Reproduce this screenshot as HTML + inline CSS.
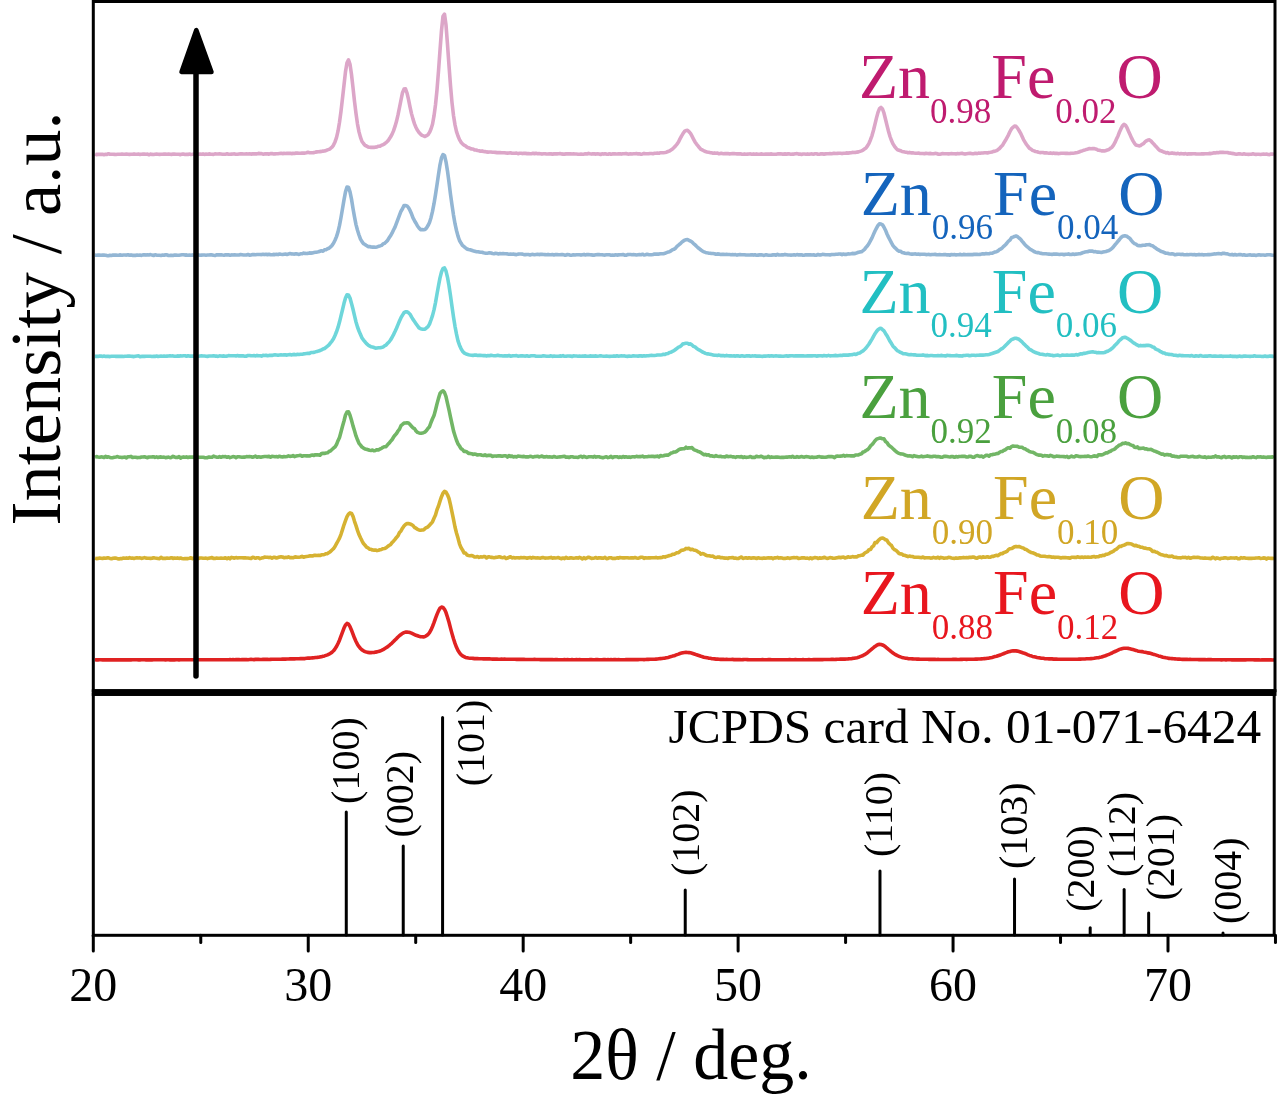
<!DOCTYPE html>
<html><head><meta charset="utf-8"><style>
html,body{margin:0;padding:0;background:#fff;}
svg{display:block;will-change:transform;}
text{font-family:"Liberation Serif",serif;}
</style></head><body>
<svg width="1280" height="1097" viewBox="0 0 1280 1097">
<rect width="1280" height="1097" fill="#fff"/>

<polyline points="95.0,153.9 96.5,154.8 98.0,154.2 99.5,154.4 101.0,154.4 102.5,154.3 104.0,154.7 105.5,154.3 107.0,154.4 108.5,153.7 110.0,154.2 111.5,154.3 113.0,154.3 114.5,154.4 116.0,154.5 117.5,154.3 119.0,154.2 120.5,154.3 122.0,154.1 123.5,154.3 125.0,154.3 126.5,154.0 128.0,154.2 129.5,154.4 131.0,154.3 132.5,154.2 134.0,153.9 135.5,154.3 137.0,154.3 138.5,154.1 140.0,154.4 141.5,154.3 143.0,154.1 144.5,154.1 146.0,154.2 147.5,154.1 149.0,154.8 150.5,154.1 152.0,154.4 153.5,154.5 155.0,154.2 156.5,154.1 158.0,154.3 159.5,154.4 161.0,154.2 162.5,154.2 164.0,154.0 165.5,154.1 167.0,154.2 168.5,154.0 170.0,154.3 171.5,154.4 173.0,154.1 174.5,154.1 176.0,154.2 177.5,154.3 179.0,154.2 180.5,154.7 182.0,154.1 183.5,154.1 185.0,154.5 186.5,154.2 188.0,154.4 189.5,154.0 191.0,154.5 192.5,154.3 194.0,154.0 195.5,154.0 197.0,154.6 198.5,154.3 200.0,154.1 201.5,154.3 203.0,153.9 204.5,154.4 206.0,154.1 207.5,154.3 209.0,153.9 210.5,154.1 212.0,154.2 213.5,154.4 215.0,153.8 216.5,154.0 218.0,154.0 219.5,153.9 221.0,154.0 222.5,154.2 224.0,154.2 225.5,154.2 227.0,153.8 228.5,154.3 230.0,154.2 231.5,154.1 233.0,154.0 234.5,153.9 236.0,154.3 237.5,154.3 239.0,154.0 240.5,153.8 242.0,153.9 243.5,154.0 245.0,154.0 246.5,153.9 248.0,154.0 249.5,153.8 251.0,154.1 252.5,153.9 254.0,153.9 255.5,153.8 257.0,153.9 258.5,153.4 260.0,153.6 261.5,153.6 263.0,154.2 264.5,153.9 266.0,153.9 267.5,153.7 269.0,154.2 270.5,153.6 272.0,153.6 273.5,154.0 275.0,153.9 276.5,153.8 278.0,153.7 279.5,153.5 281.0,153.3 282.5,153.6 284.0,153.4 285.5,153.5 287.0,153.2 288.5,153.4 290.0,153.2 291.5,153.6 293.0,153.4 294.5,153.5 296.0,153.0 297.5,153.1 299.0,153.2 300.5,153.2 302.0,153.0 303.5,153.1 305.0,153.1 306.5,152.8 308.0,152.3 309.5,152.7 311.0,152.7 312.5,152.7 314.0,152.6 315.5,152.1 317.0,151.9 318.5,151.8 320.0,151.6 321.5,151.4 323.0,151.1 324.5,151.0 326.0,150.5 327.5,149.9 329.0,149.4 330.5,148.4 332.0,147.2 333.5,145.1 335.0,141.9 336.5,137.6 338.0,131.2 339.5,122.3 341.0,111.3 342.5,98.2 344.0,85.0 345.5,71.6 347.0,62.8 348.5,59.9 350.0,64.3 351.5,74.5 353.0,87.6 354.5,101.4 356.0,113.5 357.5,124.1 359.0,131.9 360.5,137.4 362.0,141.5 363.5,143.5 365.0,145.3 366.5,146.0 368.0,146.9 369.5,147.3 371.0,147.4 372.5,147.3 374.0,147.4 375.5,147.1 377.0,146.9 378.5,146.2 380.0,146.1 381.5,145.2 383.0,144.8 384.5,143.9 386.0,142.7 387.5,141.3 389.0,139.3 390.5,137.0 392.0,134.4 393.5,130.9 395.0,126.4 396.5,121.3 398.0,114.9 399.5,107.5 401.0,100.0 402.5,92.7 404.0,89.1 405.5,88.8 407.0,93.0 408.5,99.3 410.0,106.8 411.5,113.6 413.0,119.1 414.5,123.9 416.0,127.5 417.5,130.3 419.0,132.5 420.5,134.1 422.0,135.4 423.5,135.9 425.0,136.5 426.5,135.7 428.0,134.8 429.5,132.4 431.0,129.0 432.5,124.2 434.0,115.9 435.5,104.8 437.0,90.0 438.5,71.2 440.0,50.5 441.5,30.5 443.0,16.2 444.5,14.1 446.0,25.0 447.5,44.5 449.0,65.7 450.5,85.7 452.0,102.6 453.5,115.5 455.0,124.9 456.5,131.7 458.0,136.0 459.5,139.6 461.0,142.2 462.5,143.9 464.0,145.1 465.5,145.8 467.0,147.1 468.5,147.8 470.0,148.3 471.5,149.0 473.0,149.0 474.5,149.9 476.0,150.0 477.5,150.5 479.0,150.7 480.5,151.2 482.0,150.9 483.5,151.5 485.0,151.6 486.5,151.9 488.0,152.1 489.5,152.0 491.0,152.0 492.5,152.2 494.0,152.2 495.5,152.4 497.0,152.6 498.5,152.5 500.0,152.6 501.5,152.8 503.0,152.7 504.5,152.7 506.0,153.0 507.5,153.1 509.0,153.0 510.5,152.8 512.0,153.2 513.5,153.3 515.0,153.3 516.5,153.1 518.0,153.7 519.5,153.3 521.0,153.2 522.5,153.6 524.0,153.2 525.5,153.4 527.0,153.6 528.5,153.5 530.0,153.8 531.5,153.7 533.0,153.3 534.5,153.8 536.0,153.3 537.5,153.7 539.0,153.5 540.5,153.7 542.0,154.1 543.5,153.8 545.0,153.7 546.5,154.0 548.0,154.0 549.5,153.7 551.0,153.9 552.5,154.1 554.0,153.9 555.5,153.7 557.0,153.9 558.5,153.7 560.0,153.6 561.5,153.9 563.0,154.1 564.5,154.1 566.0,153.9 567.5,153.7 569.0,153.9 570.5,153.8 572.0,154.0 573.5,153.9 575.0,154.0 576.5,154.0 578.0,154.2 579.5,154.2 581.0,154.0 582.5,154.2 584.0,154.1 585.5,153.8 587.0,154.0 588.5,153.4 590.0,153.8 591.5,154.1 593.0,153.8 594.5,153.9 596.0,154.1 597.5,153.8 599.0,154.1 600.5,154.5 602.0,153.8 603.5,154.1 605.0,153.7 606.5,154.1 608.0,154.2 609.5,153.7 611.0,154.2 612.5,153.9 614.0,153.7 615.5,153.9 617.0,154.0 618.5,153.9 620.0,153.8 621.5,154.1 623.0,153.8 624.5,153.8 626.0,153.5 627.5,154.0 629.0,154.1 630.5,153.8 632.0,154.0 633.5,153.8 635.0,153.8 636.5,153.6 638.0,153.9 639.5,153.8 641.0,154.2 642.5,153.9 644.0,153.4 645.5,153.8 647.0,153.8 648.5,153.8 650.0,153.5 651.5,153.5 653.0,153.7 654.5,153.3 656.0,153.3 657.5,153.1 659.0,153.3 660.5,152.7 662.0,152.8 663.5,152.7 665.0,152.5 666.5,152.2 668.0,151.5 669.5,151.1 671.0,150.1 672.5,149.1 674.0,147.6 675.5,146.0 677.0,144.1 678.5,142.0 680.0,138.9 681.5,136.1 683.0,133.6 684.5,131.4 686.0,130.5 687.5,130.4 689.0,131.7 690.5,133.4 692.0,136.2 693.5,139.1 695.0,141.9 696.5,144.1 698.0,145.9 699.5,147.8 701.0,149.4 702.5,150.0 704.0,150.8 705.5,151.5 707.0,152.0 708.5,152.3 710.0,152.6 711.5,152.8 713.0,153.2 714.5,152.9 716.0,153.2 717.5,153.0 719.0,153.8 720.5,153.4 722.0,153.4 723.5,153.7 725.0,153.6 726.5,153.6 728.0,153.6 729.5,153.9 731.0,153.8 732.5,153.6 734.0,153.6 735.5,153.8 737.0,153.9 738.5,153.9 740.0,153.7 741.5,154.1 743.0,154.2 744.5,153.9 746.0,154.2 747.5,154.1 749.0,154.0 750.5,153.9 752.0,154.2 753.5,153.9 755.0,154.3 756.5,153.9 758.0,154.3 759.5,154.3 761.0,153.9 762.5,154.1 764.0,154.2 765.5,154.1 767.0,154.0 768.5,154.1 770.0,154.1 771.5,153.9 773.0,154.2 774.5,154.2 776.0,154.2 777.5,153.9 779.0,153.9 780.5,153.8 782.0,154.1 783.5,154.1 785.0,153.9 786.5,154.1 788.0,153.9 789.5,153.9 791.0,154.2 792.5,154.1 794.0,154.1 795.5,153.7 797.0,153.6 798.5,154.1 800.0,154.0 801.5,154.4 803.0,154.0 804.5,154.0 806.0,154.2 807.5,153.9 809.0,154.3 810.5,154.0 812.0,153.9 813.5,154.2 815.0,153.8 816.5,153.7 818.0,154.2 819.5,154.2 821.0,153.8 822.5,153.9 824.0,154.1 825.5,153.9 827.0,153.8 828.5,153.8 830.0,153.6 831.5,153.7 833.0,153.4 834.5,153.4 836.0,153.5 837.5,153.4 839.0,153.3 840.5,153.3 842.0,153.6 843.5,153.2 845.0,153.3 846.5,152.9 848.0,153.1 849.5,152.9 851.0,152.8 852.5,152.4 854.0,152.5 855.5,152.4 857.0,152.1 858.5,151.9 860.0,151.4 861.5,150.9 863.0,150.2 864.5,148.9 866.0,147.9 867.5,145.9 869.0,143.3 870.5,139.7 872.0,135.6 873.5,130.2 875.0,124.1 876.5,117.9 878.0,112.4 879.5,108.6 881.0,107.4 882.5,109.0 884.0,113.2 885.5,119.2 887.0,125.4 888.5,131.2 890.0,136.5 891.5,140.6 893.0,143.9 894.5,146.3 896.0,148.2 897.5,149.7 899.0,150.2 900.5,150.7 902.0,151.5 903.5,151.8 905.0,152.1 906.5,152.2 908.0,152.8 909.5,152.4 911.0,152.9 912.5,152.7 914.0,153.0 915.5,153.2 917.0,153.2 918.5,153.1 920.0,153.5 921.5,153.5 923.0,153.5 924.5,153.8 926.0,153.3 927.5,153.5 929.0,153.6 930.5,153.4 932.0,153.8 933.5,153.7 935.0,153.4 936.5,153.5 938.0,154.1 939.5,154.3 941.0,153.9 942.5,153.6 944.0,153.8 945.5,153.8 947.0,153.7 948.5,153.9 950.0,153.7 951.5,153.6 953.0,153.7 954.5,153.7 956.0,153.9 957.5,153.6 959.0,153.8 960.5,153.5 962.0,153.2 963.5,153.8 965.0,154.1 966.5,153.7 968.0,153.5 969.5,153.4 971.0,153.4 972.5,153.7 974.0,153.6 975.5,153.2 977.0,153.6 978.5,153.1 980.0,153.3 981.5,153.0 983.0,153.0 984.5,152.8 986.0,152.7 987.5,152.9 989.0,152.5 990.5,152.3 992.0,152.0 993.5,151.4 995.0,151.2 996.5,150.6 998.0,149.7 999.5,148.5 1001.0,146.8 1002.5,145.3 1004.0,142.7 1005.5,140.3 1007.0,137.6 1008.5,134.8 1010.0,131.5 1011.5,128.8 1013.0,127.3 1014.5,126.0 1016.0,126.3 1017.5,128.1 1019.0,130.5 1020.5,133.1 1022.0,136.3 1023.5,139.6 1025.0,142.1 1026.5,144.5 1028.0,146.4 1029.5,148.4 1031.0,149.1 1032.5,150.3 1034.0,150.9 1035.5,151.5 1037.0,151.7 1038.5,152.2 1040.0,152.6 1041.5,152.5 1043.0,152.5 1044.5,152.9 1046.0,152.7 1047.5,153.0 1049.0,153.2 1050.5,152.9 1052.0,153.4 1053.5,153.1 1055.0,153.4 1056.5,153.2 1058.0,153.6 1059.5,153.5 1061.0,153.2 1062.5,153.3 1064.0,153.3 1065.5,153.4 1067.0,153.2 1068.5,153.5 1070.0,153.4 1071.5,153.2 1073.0,153.2 1074.5,153.0 1076.0,152.7 1077.5,152.4 1079.0,152.0 1080.5,151.3 1082.0,150.9 1083.5,150.3 1085.0,149.9 1086.5,149.4 1088.0,149.1 1089.5,148.5 1091.0,148.7 1092.5,148.6 1094.0,148.6 1095.5,148.9 1097.0,149.5 1098.5,150.3 1100.0,150.4 1101.5,150.9 1103.0,150.8 1104.5,151.0 1106.0,150.6 1107.5,149.9 1109.0,149.5 1110.5,148.2 1112.0,147.2 1113.5,145.2 1115.0,142.4 1116.5,139.1 1118.0,135.9 1119.5,132.0 1121.0,128.7 1122.5,125.8 1124.0,124.4 1125.5,125.3 1127.0,127.7 1128.5,131.2 1130.0,134.5 1131.5,137.9 1133.0,140.9 1134.5,143.3 1136.0,145.1 1137.5,145.4 1139.0,145.9 1140.5,145.5 1142.0,144.4 1143.5,143.7 1145.0,141.9 1146.5,140.8 1148.0,140.0 1149.5,139.9 1151.0,140.9 1152.5,142.8 1154.0,144.3 1155.5,146.0 1157.0,147.6 1158.5,149.3 1160.0,150.5 1161.5,151.0 1163.0,151.7 1164.5,152.2 1166.0,152.9 1167.5,152.5 1169.0,153.5 1170.5,153.2 1172.0,152.9 1173.5,153.4 1175.0,153.4 1176.5,153.7 1178.0,153.3 1179.5,153.9 1181.0,153.6 1182.5,153.7 1184.0,153.9 1185.5,153.6 1187.0,154.1 1188.5,153.9 1190.0,153.9 1191.5,153.9 1193.0,153.8 1194.5,153.7 1196.0,153.9 1197.5,154.0 1199.0,154.0 1200.5,154.0 1202.0,153.7 1203.5,153.9 1205.0,153.7 1206.5,153.8 1208.0,153.8 1209.5,153.4 1211.0,153.6 1212.5,153.2 1214.0,152.8 1215.5,153.0 1217.0,152.6 1218.5,152.7 1220.0,152.3 1221.5,152.4 1223.0,152.3 1224.5,152.5 1226.0,152.5 1227.5,152.5 1229.0,153.0 1230.5,153.1 1232.0,153.4 1233.5,153.6 1235.0,153.9 1236.5,154.2 1238.0,153.9 1239.5,153.7 1241.0,154.0 1242.5,154.2 1244.0,153.8 1245.5,154.2 1247.0,154.3 1248.5,154.4 1250.0,154.3 1251.5,154.2 1253.0,153.8 1254.5,154.2 1256.0,154.4 1257.5,154.3 1259.0,154.3 1260.5,154.5 1262.0,154.2 1263.5,154.1 1265.0,154.2 1266.5,154.1 1268.0,154.5 1269.5,154.6 1271.0,154.0 1272.5,154.1 1274.0,154.5" fill="none" stroke="#dca6c8" stroke-width="3.6" stroke-linejoin="round"/>
<polyline points="95.0,255.1 96.5,255.2 98.0,255.1 99.5,255.1 101.0,255.3 102.5,255.1 104.0,255.1 105.5,255.2 107.0,255.6 108.5,255.8 110.0,255.3 111.5,255.5 113.0,255.1 114.5,255.0 116.0,255.1 117.5,255.2 119.0,255.1 120.5,254.9 122.0,255.3 123.5,255.0 125.0,255.0 126.5,255.1 128.0,254.8 129.5,255.3 131.0,254.9 132.5,255.4 134.0,255.3 135.5,255.4 137.0,255.0 138.5,255.3 140.0,255.1 141.5,255.4 143.0,254.9 144.5,254.7 146.0,255.1 147.5,254.8 149.0,255.0 150.5,254.6 152.0,255.1 153.5,255.5 155.0,254.8 156.5,255.1 158.0,255.3 159.5,255.3 161.0,255.5 162.5,255.1 164.0,255.3 165.5,254.8 167.0,254.9 168.5,255.5 170.0,255.4 171.5,255.2 173.0,255.5 174.5,255.1 176.0,255.1 177.5,255.2 179.0,255.2 180.5,255.0 182.0,254.8 183.5,254.7 185.0,255.1 186.5,254.9 188.0,255.2 189.5,255.0 191.0,255.3 192.5,254.9 194.0,255.3 195.5,255.2 197.0,255.0 198.5,254.9 200.0,255.3 201.5,255.1 203.0,255.0 204.5,255.0 206.0,255.2 207.5,255.0 209.0,255.0 210.5,254.7 212.0,254.9 213.5,255.3 215.0,255.5 216.5,254.9 218.0,254.7 219.5,254.9 221.0,254.7 222.5,255.0 224.0,255.2 225.5,254.8 227.0,254.9 228.5,254.8 230.0,255.2 231.5,254.9 233.0,255.0 234.5,254.7 236.0,255.0 237.5,255.0 239.0,255.0 240.5,254.6 242.0,254.8 243.5,255.0 245.0,255.0 246.5,255.0 248.0,254.5 249.5,255.2 251.0,254.9 252.5,254.6 254.0,254.5 255.5,254.7 257.0,254.5 258.5,254.5 260.0,254.5 261.5,254.6 263.0,254.3 264.5,254.6 266.0,254.3 267.5,254.8 269.0,254.3 270.5,254.8 272.0,254.8 273.5,254.4 275.0,254.6 276.5,254.3 278.0,254.6 279.5,254.0 281.0,254.3 282.5,254.5 284.0,254.2 285.5,254.0 287.0,254.4 288.5,254.0 290.0,253.6 291.5,253.9 293.0,254.0 294.5,254.1 296.0,253.7 297.5,254.1 299.0,254.4 300.5,253.8 302.0,253.8 303.5,253.1 305.0,253.4 306.5,253.5 308.0,253.4 309.5,252.9 311.0,253.1 312.5,252.9 314.0,252.6 315.5,252.3 317.0,252.1 318.5,251.8 320.0,251.3 321.5,250.8 323.0,251.2 324.5,249.8 326.0,249.7 327.5,248.8 329.0,248.3 330.5,246.9 332.0,245.4 333.5,243.3 335.0,240.3 336.5,236.6 338.0,231.9 339.5,225.4 341.0,217.5 342.5,208.8 344.0,199.9 345.5,191.9 347.0,187.0 348.5,187.2 350.0,191.9 351.5,199.1 353.0,208.5 354.5,216.9 356.0,224.6 357.5,230.3 359.0,235.0 360.5,239.1 362.0,241.6 363.5,243.7 365.0,244.5 366.5,245.6 368.0,246.6 369.5,246.5 371.0,247.0 372.5,247.1 374.0,247.1 375.5,247.2 377.0,246.9 378.5,246.3 380.0,245.9 381.5,245.4 383.0,243.9 384.5,243.3 386.0,242.0 387.5,240.4 389.0,238.1 390.5,235.8 392.0,233.2 393.5,230.0 395.0,227.1 396.5,223.1 398.0,219.1 399.5,215.1 401.0,211.2 402.5,208.7 404.0,205.5 405.5,205.6 407.0,205.9 408.5,207.6 410.0,210.4 411.5,213.8 413.0,217.9 414.5,220.7 416.0,223.2 417.5,226.0 419.0,228.0 420.5,229.6 422.0,229.5 423.5,229.8 425.0,229.5 426.5,227.9 428.0,225.6 429.5,222.5 431.0,217.7 432.5,211.4 434.0,203.7 435.5,194.6 437.0,184.8 438.5,174.5 440.0,164.8 441.5,157.8 443.0,154.6 444.5,155.5 446.0,161.8 447.5,171.1 449.0,182.3 450.5,194.4 452.0,205.1 453.5,215.1 455.0,223.7 456.5,230.5 458.0,236.1 459.5,240.5 461.0,243.1 462.5,245.4 464.0,246.6 465.5,247.9 467.0,249.0 468.5,249.5 470.0,249.8 471.5,250.3 473.0,250.8 474.5,251.2 476.0,251.6 477.5,251.8 479.0,251.9 480.5,252.2 482.0,252.3 483.5,252.8 485.0,253.1 486.5,253.2 488.0,253.1 489.5,252.8 491.0,253.0 492.5,253.5 494.0,253.7 495.5,253.3 497.0,253.5 498.5,253.9 500.0,253.5 501.5,253.7 503.0,253.5 504.5,253.8 506.0,253.7 507.5,253.9 509.0,254.2 510.5,254.1 512.0,254.3 513.5,254.0 515.0,254.4 516.5,254.6 518.0,254.1 519.5,254.0 521.0,254.0 522.5,254.1 524.0,254.7 525.5,254.6 527.0,254.5 528.5,254.5 530.0,254.9 531.5,254.5 533.0,254.4 534.5,254.7 536.0,254.5 537.5,254.3 539.0,254.6 540.5,254.4 542.0,254.4 543.5,254.5 545.0,254.6 546.5,254.7 548.0,254.4 549.5,254.8 551.0,254.8 552.5,254.5 554.0,254.9 555.5,254.6 557.0,254.5 558.5,254.7 560.0,254.7 561.5,254.6 563.0,254.6 564.5,255.1 566.0,255.1 567.5,254.5 569.0,254.7 570.5,255.3 572.0,255.1 573.5,254.8 575.0,255.0 576.5,254.7 578.0,254.8 579.5,254.7 581.0,255.1 582.5,254.7 584.0,254.4 585.5,255.0 587.0,254.6 588.5,254.6 590.0,254.7 591.5,254.9 593.0,255.1 594.5,255.1 596.0,254.7 597.5,254.6 599.0,254.6 600.5,254.7 602.0,254.7 603.5,255.0 605.0,255.1 606.5,254.8 608.0,254.8 609.5,254.8 611.0,255.2 612.5,255.0 614.0,255.2 615.5,254.8 617.0,255.1 618.5,254.9 620.0,254.8 621.5,254.8 623.0,254.5 624.5,255.1 626.0,255.3 627.5,254.6 629.0,254.5 630.5,254.5 632.0,254.7 633.5,254.6 635.0,254.7 636.5,255.0 638.0,254.8 639.5,254.6 641.0,254.8 642.5,254.2 644.0,255.0 645.5,254.7 647.0,254.3 648.5,254.6 650.0,254.7 651.5,254.7 653.0,254.5 654.5,254.0 656.0,254.1 657.5,254.0 659.0,254.1 660.5,253.7 662.0,253.7 663.5,253.7 665.0,253.3 666.5,252.7 668.0,252.1 669.5,251.7 671.0,250.9 672.5,249.7 674.0,249.3 675.5,248.2 677.0,246.4 678.5,245.2 680.0,243.9 681.5,242.4 683.0,241.3 684.5,240.2 686.0,239.8 687.5,239.5 689.0,240.3 690.5,241.1 692.0,242.1 693.5,243.6 695.0,244.7 696.5,246.3 698.0,247.7 699.5,248.8 701.0,250.0 702.5,251.1 704.0,251.8 705.5,252.4 707.0,252.8 708.5,253.1 710.0,253.2 711.5,253.5 713.0,253.5 714.5,253.7 716.0,254.2 717.5,253.9 719.0,254.1 720.5,254.5 722.0,254.4 723.5,254.3 725.0,254.5 726.5,254.4 728.0,254.5 729.5,254.5 731.0,254.7 732.5,254.6 734.0,254.8 735.5,254.6 737.0,255.1 738.5,254.7 740.0,254.5 741.5,254.7 743.0,254.8 744.5,254.7 746.0,255.0 747.5,255.0 749.0,255.0 750.5,254.9 752.0,254.7 753.5,255.1 755.0,254.7 756.5,255.3 758.0,255.1 759.5,254.9 761.0,254.7 762.5,255.1 764.0,255.4 765.5,254.8 767.0,254.9 768.5,255.2 770.0,255.2 771.5,255.1 773.0,254.9 774.5,254.8 776.0,255.3 777.5,254.4 779.0,255.0 780.5,255.0 782.0,254.8 783.5,254.9 785.0,254.4 786.5,254.7 788.0,255.0 789.5,255.0 791.0,255.1 792.5,255.0 794.0,254.8 795.5,255.1 797.0,254.6 798.5,254.9 800.0,254.9 801.5,254.7 803.0,255.3 804.5,255.1 806.0,254.8 807.5,254.9 809.0,254.9 810.5,254.8 812.0,255.0 813.5,254.9 815.0,255.1 816.5,255.2 818.0,254.5 819.5,255.0 821.0,254.9 822.5,254.4 824.0,254.5 825.5,254.8 827.0,254.8 828.5,254.7 830.0,254.9 831.5,254.5 833.0,254.5 834.5,254.5 836.0,254.3 837.5,254.3 839.0,254.0 840.5,254.0 842.0,254.7 843.5,254.0 845.0,254.4 846.5,254.4 848.0,253.8 849.5,254.0 851.0,253.8 852.5,253.4 854.0,253.6 855.5,253.4 857.0,252.8 858.5,252.3 860.0,251.9 861.5,251.7 863.0,250.6 864.5,249.4 866.0,247.4 867.5,245.7 869.0,243.5 870.5,240.7 872.0,237.9 873.5,234.4 875.0,231.0 876.5,228.2 878.0,225.4 879.5,223.8 881.0,224.0 882.5,224.8 884.0,227.2 885.5,230.2 887.0,234.0 888.5,237.1 890.0,240.0 891.5,242.9 893.0,245.6 894.5,247.4 896.0,248.7 897.5,250.2 899.0,251.1 900.5,251.3 902.0,252.4 903.5,252.8 905.0,253.3 906.5,253.5 908.0,253.2 909.5,253.7 911.0,254.1 912.5,254.1 914.0,254.0 915.5,253.9 917.0,254.3 918.5,254.1 920.0,254.4 921.5,254.3 923.0,254.3 924.5,254.3 926.0,254.6 927.5,254.5 929.0,254.4 930.5,254.8 932.0,254.5 933.5,254.5 935.0,254.4 936.5,254.6 938.0,254.7 939.5,254.6 941.0,254.8 942.5,254.7 944.0,254.6 945.5,254.6 947.0,254.9 948.5,254.8 950.0,255.2 951.5,254.5 953.0,254.8 954.5,254.6 956.0,254.9 957.5,254.7 959.0,254.6 960.5,254.4 962.0,254.9 963.5,254.4 965.0,254.6 966.5,254.8 968.0,254.5 969.5,254.6 971.0,254.6 972.5,254.6 974.0,254.4 975.5,254.4 977.0,254.4 978.5,254.5 980.0,254.4 981.5,254.1 983.0,253.8 984.5,254.0 986.0,253.6 987.5,253.8 989.0,253.8 990.5,253.2 992.0,253.3 993.5,252.6 995.0,252.0 996.5,251.7 998.0,250.9 999.5,249.5 1001.0,248.9 1002.5,247.6 1004.0,246.1 1005.5,244.7 1007.0,243.0 1008.5,241.1 1010.0,240.0 1011.5,237.7 1013.0,237.1 1014.5,236.4 1016.0,236.0 1017.5,236.7 1019.0,238.0 1020.5,239.2 1022.0,241.1 1023.5,242.8 1025.0,244.7 1026.5,246.1 1028.0,247.3 1029.5,248.7 1031.0,249.7 1032.5,250.5 1034.0,251.5 1035.5,252.2 1037.0,252.6 1038.5,252.6 1040.0,253.2 1041.5,253.4 1043.0,253.7 1044.5,253.7 1046.0,253.8 1047.5,254.0 1049.0,254.1 1050.5,254.3 1052.0,254.4 1053.5,254.1 1055.0,254.1 1056.5,254.1 1058.0,254.3 1059.5,254.5 1061.0,254.2 1062.5,254.2 1064.0,254.7 1065.5,254.2 1067.0,254.2 1068.5,253.9 1070.0,254.5 1071.5,254.5 1073.0,254.0 1074.5,254.4 1076.0,254.1 1077.5,254.0 1079.0,253.8 1080.5,253.7 1082.0,253.0 1083.5,252.4 1085.0,252.1 1086.5,251.8 1088.0,251.6 1089.5,251.0 1091.0,251.1 1092.5,251.0 1094.0,251.8 1095.5,251.6 1097.0,252.1 1098.5,252.0 1100.0,252.2 1101.5,252.5 1103.0,252.1 1104.5,251.7 1106.0,251.5 1107.5,250.9 1109.0,250.5 1110.5,249.5 1112.0,248.4 1113.5,246.7 1115.0,244.8 1116.5,243.1 1118.0,241.2 1119.5,239.5 1121.0,237.5 1122.5,236.3 1124.0,235.9 1125.5,235.9 1127.0,236.3 1128.5,237.6 1130.0,238.6 1131.5,240.6 1133.0,242.4 1134.5,243.6 1136.0,244.2 1137.5,245.5 1139.0,245.6 1140.5,245.8 1142.0,245.4 1143.5,245.3 1145.0,245.2 1146.5,244.7 1148.0,244.7 1149.5,244.6 1151.0,245.4 1152.5,245.7 1154.0,247.0 1155.5,247.9 1157.0,249.1 1158.5,249.9 1160.0,250.8 1161.5,251.5 1163.0,251.9 1164.5,252.8 1166.0,253.3 1167.5,253.2 1169.0,253.7 1170.5,254.0 1172.0,253.8 1173.5,254.0 1175.0,254.8 1176.5,254.4 1178.0,254.2 1179.5,254.3 1181.0,254.6 1182.5,254.2 1184.0,254.8 1185.5,254.7 1187.0,254.6 1188.5,254.7 1190.0,254.5 1191.5,254.5 1193.0,254.8 1194.5,254.5 1196.0,254.9 1197.5,254.8 1199.0,254.4 1200.5,254.8 1202.0,254.6 1203.5,254.9 1205.0,254.8 1206.5,254.7 1208.0,254.6 1209.5,254.6 1211.0,254.5 1212.5,254.2 1214.0,253.9 1215.5,254.0 1217.0,253.7 1218.5,253.5 1220.0,253.8 1221.5,253.9 1223.0,253.2 1224.5,253.4 1226.0,253.8 1227.5,253.9 1229.0,254.4 1230.5,254.7 1232.0,254.4 1233.5,255.0 1235.0,254.5 1236.5,255.0 1238.0,254.8 1239.5,254.5 1241.0,254.6 1242.5,255.1 1244.0,254.8 1245.5,255.3 1247.0,255.2 1248.5,255.0 1250.0,254.8 1251.5,255.2 1253.0,255.0 1254.5,255.1 1256.0,255.4 1257.5,255.1 1259.0,254.8 1260.5,255.1 1262.0,255.0 1263.5,255.0 1265.0,255.3 1266.5,254.9 1268.0,254.8 1269.5,254.8 1271.0,254.9 1272.5,255.3 1274.0,255.3" fill="none" stroke="#93b6d4" stroke-width="3.6" stroke-linejoin="round"/>
<polyline points="95.0,356.4 96.5,356.4 98.0,356.4 99.5,356.1 101.0,356.0 102.5,356.4 104.0,356.1 105.5,356.5 107.0,356.3 108.5,356.4 110.0,356.6 111.5,356.3 113.0,356.3 114.5,356.3 116.0,356.4 117.5,356.4 119.0,356.3 120.5,356.4 122.0,356.2 123.5,356.5 125.0,356.2 126.5,356.2 128.0,356.0 129.5,356.1 131.0,356.2 132.5,356.4 134.0,356.6 135.5,356.2 137.0,356.0 138.5,355.9 140.0,356.7 141.5,356.4 143.0,356.3 144.5,356.4 146.0,356.2 147.5,356.2 149.0,356.3 150.5,356.2 152.0,356.5 153.5,356.4 155.0,356.4 156.5,356.0 158.0,356.5 159.5,356.2 161.0,356.1 162.5,356.2 164.0,356.0 165.5,356.3 167.0,356.1 168.5,356.0 170.0,355.8 171.5,356.0 173.0,355.9 174.5,356.2 176.0,356.2 177.5,355.9 179.0,356.1 180.5,355.9 182.0,356.0 183.5,355.8 185.0,355.7 186.5,356.3 188.0,355.8 189.5,356.1 191.0,356.0 192.5,356.1 194.0,356.0 195.5,356.3 197.0,356.2 198.5,356.2 200.0,356.0 201.5,355.9 203.0,356.0 204.5,356.0 206.0,356.2 207.5,356.4 209.0,356.0 210.5,356.0 212.0,356.0 213.5,355.8 215.0,356.1 216.5,356.1 218.0,356.4 219.5,355.9 221.0,356.0 222.5,356.1 224.0,355.9 225.5,356.2 227.0,356.1 228.5,355.6 230.0,355.8 231.5,355.8 233.0,355.8 234.5,355.8 236.0,355.9 237.5,355.5 239.0,355.9 240.5,355.7 242.0,355.9 243.5,355.9 245.0,356.3 246.5,356.1 248.0,355.5 249.5,355.5 251.0,355.8 252.5,355.7 254.0,355.6 255.5,355.9 257.0,355.4 258.5,355.8 260.0,355.8 261.5,356.1 263.0,355.3 264.5,355.5 266.0,355.2 267.5,355.7 269.0,355.4 270.5,355.4 272.0,355.4 273.5,355.0 275.0,354.9 276.5,355.0 278.0,355.3 279.5,355.0 281.0,354.9 282.5,355.0 284.0,354.9 285.5,354.9 287.0,355.1 288.5,354.8 290.0,354.5 291.5,354.9 293.0,354.6 294.5,354.4 296.0,354.7 297.5,354.3 299.0,354.5 300.5,354.2 302.0,354.2 303.5,353.9 305.0,353.7 306.5,353.5 308.0,353.3 309.5,353.4 311.0,352.5 312.5,352.5 314.0,352.4 315.5,351.9 317.0,351.4 318.5,351.1 320.0,350.5 321.5,349.9 323.0,349.0 324.5,348.5 326.0,347.3 327.5,346.1 329.0,344.8 330.5,342.9 332.0,341.1 333.5,338.8 335.0,335.5 336.5,331.8 338.0,327.4 339.5,322.1 341.0,315.8 342.5,309.7 344.0,303.3 345.5,298.1 347.0,294.8 348.5,295.0 350.0,298.1 351.5,303.4 353.0,309.3 354.5,315.7 356.0,322.0 357.5,327.0 359.0,331.0 360.5,334.6 362.0,337.9 363.5,340.1 365.0,341.8 366.5,343.6 368.0,344.9 369.5,345.9 371.0,346.8 372.5,347.1 374.0,347.5 375.5,348.1 377.0,348.0 378.5,347.8 380.0,347.8 381.5,347.4 383.0,347.1 384.5,345.9 386.0,345.2 387.5,343.3 389.0,342.0 390.5,340.0 392.0,337.5 393.5,334.6 395.0,331.5 396.5,328.2 398.0,324.6 399.5,321.0 401.0,317.7 402.5,315.1 404.0,312.7 405.5,311.9 407.0,311.8 408.5,312.8 410.0,314.2 411.5,316.9 413.0,319.4 414.5,321.5 416.0,323.7 417.5,325.8 419.0,327.9 420.5,328.7 422.0,329.1 423.5,329.3 425.0,329.2 426.5,327.9 428.0,326.6 429.5,324.1 431.0,320.0 432.5,315.6 434.0,309.9 435.5,302.6 437.0,294.0 438.5,285.8 440.0,277.9 441.5,272.0 443.0,268.4 444.5,267.9 446.0,271.1 447.5,277.3 449.0,285.8 450.5,295.8 452.0,306.5 453.5,316.9 455.0,326.3 456.5,334.2 458.0,340.8 459.5,345.2 461.0,348.6 462.5,351.2 464.0,352.8 465.5,353.6 467.0,354.3 468.5,354.7 470.0,355.0 471.5,355.2 473.0,355.4 474.5,355.1 476.0,355.1 477.5,355.5 479.0,355.4 480.5,355.4 482.0,355.5 483.5,355.6 485.0,355.6 486.5,355.9 488.0,355.6 489.5,355.7 491.0,355.2 492.5,355.5 494.0,355.7 495.5,355.7 497.0,355.4 498.5,355.4 500.0,355.7 501.5,355.8 503.0,356.0 504.5,355.9 506.0,355.8 507.5,356.0 509.0,355.5 510.5,356.2 512.0,355.9 513.5,355.8 515.0,355.8 516.5,355.6 518.0,356.2 519.5,356.0 521.0,355.9 522.5,355.9 524.0,356.0 525.5,356.1 527.0,355.8 528.5,356.2 530.0,356.1 531.5,355.7 533.0,355.7 534.5,355.8 536.0,356.2 537.5,356.2 539.0,356.2 540.5,356.2 542.0,356.1 543.5,355.8 545.0,356.0 546.5,356.2 548.0,356.2 549.5,356.3 551.0,355.8 552.5,356.4 554.0,356.0 555.5,356.3 557.0,356.3 558.5,356.3 560.0,355.9 561.5,356.1 563.0,355.6 564.5,356.3 566.0,356.3 567.5,356.0 569.0,356.0 570.5,356.1 572.0,356.5 573.5,355.8 575.0,356.0 576.5,356.0 578.0,356.2 579.5,356.0 581.0,356.2 582.5,356.1 584.0,356.1 585.5,355.9 587.0,356.2 588.5,356.2 590.0,355.9 591.5,356.1 593.0,356.1 594.5,356.1 596.0,355.9 597.5,356.2 599.0,356.0 600.5,355.7 602.0,356.0 603.5,356.2 605.0,356.3 606.5,356.1 608.0,356.3 609.5,356.4 611.0,356.2 612.5,356.3 614.0,355.9 615.5,356.3 617.0,355.8 618.5,356.2 620.0,356.0 621.5,355.9 623.0,356.0 624.5,355.9 626.0,356.2 627.5,356.4 629.0,356.0 630.5,356.3 632.0,356.1 633.5,355.8 635.0,356.0 636.5,356.0 638.0,356.1 639.5,355.9 641.0,355.9 642.5,356.1 644.0,355.7 645.5,356.0 647.0,355.7 648.5,355.8 650.0,355.5 651.5,355.4 653.0,355.5 654.5,355.5 656.0,355.3 657.5,355.0 659.0,355.0 660.5,355.0 662.0,354.7 663.5,354.2 665.0,354.5 666.5,353.7 668.0,353.5 669.5,352.5 671.0,352.2 672.5,351.4 674.0,350.7 675.5,349.5 677.0,348.3 678.5,347.1 680.0,346.6 681.5,345.4 683.0,343.7 684.5,343.6 686.0,343.3 687.5,343.2 689.0,344.1 690.5,343.9 692.0,345.0 693.5,346.3 695.0,346.9 696.5,348.3 698.0,349.4 699.5,350.1 701.0,351.0 702.5,352.0 704.0,352.6 705.5,353.4 707.0,353.9 708.5,353.9 710.0,354.2 711.5,354.6 713.0,354.9 714.5,355.2 716.0,355.3 717.5,355.5 719.0,355.1 720.5,355.6 722.0,355.5 723.5,355.6 725.0,355.9 726.5,355.4 728.0,355.8 729.5,355.9 731.0,355.8 732.5,356.0 734.0,355.9 735.5,356.1 737.0,355.8 738.5,355.9 740.0,356.2 741.5,355.8 743.0,355.9 744.5,356.2 746.0,355.9 747.5,355.9 749.0,355.7 750.5,356.2 752.0,355.9 753.5,356.0 755.0,355.9 756.5,356.1 758.0,356.1 759.5,356.0 761.0,356.3 762.5,356.4 764.0,356.1 765.5,356.1 767.0,356.0 768.5,355.9 770.0,356.1 771.5,355.8 773.0,356.1 774.5,356.0 776.0,355.9 777.5,356.0 779.0,356.1 780.5,356.0 782.0,356.2 783.5,356.2 785.0,356.0 786.5,355.9 788.0,356.1 789.5,355.9 791.0,355.7 792.5,355.7 794.0,356.0 795.5,355.8 797.0,355.9 798.5,355.9 800.0,355.9 801.5,355.9 803.0,355.8 804.5,356.0 806.0,356.0 807.5,355.9 809.0,355.9 810.5,355.7 812.0,355.9 813.5,355.8 815.0,355.7 816.5,356.1 818.0,355.9 819.5,355.8 821.0,355.8 822.5,356.0 824.0,355.6 825.5,355.8 827.0,355.9 828.5,355.4 830.0,355.9 831.5,355.7 833.0,355.8 834.5,355.6 836.0,355.4 837.5,355.7 839.0,355.5 840.5,355.4 842.0,355.5 843.5,355.0 845.0,355.1 846.5,355.1 848.0,355.1 849.5,354.9 851.0,354.7 852.5,354.6 854.0,354.1 855.5,354.5 857.0,354.0 858.5,353.2 860.0,352.9 861.5,351.8 863.0,350.9 864.5,349.5 866.0,348.0 867.5,346.0 869.0,344.0 870.5,341.5 872.0,339.1 873.5,336.3 875.0,333.7 876.5,331.5 878.0,329.7 879.5,328.6 881.0,328.2 882.5,329.6 884.0,330.9 885.5,333.4 887.0,335.7 888.5,338.5 890.0,341.3 891.5,343.6 893.0,346.2 894.5,347.6 896.0,349.2 897.5,350.9 899.0,351.4 900.5,352.4 902.0,353.0 903.5,353.8 905.0,353.8 906.5,354.1 908.0,354.4 909.5,354.8 911.0,354.6 912.5,354.7 914.0,354.9 915.5,354.9 917.0,355.3 918.5,355.2 920.0,355.2 921.5,355.3 923.0,354.9 924.5,355.4 926.0,355.6 927.5,355.4 929.0,355.7 930.5,355.5 932.0,355.5 933.5,355.7 935.0,355.7 936.5,355.8 938.0,355.6 939.5,355.8 941.0,355.4 942.5,355.6 944.0,355.7 945.5,356.0 947.0,355.3 948.5,355.5 950.0,355.6 951.5,355.7 953.0,355.7 954.5,355.8 956.0,355.4 957.5,355.6 959.0,355.9 960.5,355.8 962.0,356.1 963.5,355.5 965.0,355.5 966.5,355.3 968.0,355.2 969.5,355.7 971.0,355.4 972.5,355.3 974.0,355.3 975.5,355.5 977.0,355.2 978.5,355.2 980.0,355.0 981.5,355.1 983.0,355.1 984.5,355.0 986.0,354.8 987.5,354.7 989.0,354.4 990.5,354.0 992.0,353.6 993.5,353.0 995.0,352.5 996.5,352.0 998.0,351.5 999.5,350.3 1001.0,349.1 1002.5,348.3 1004.0,347.0 1005.5,345.5 1007.0,344.0 1008.5,342.4 1010.0,341.1 1011.5,339.6 1013.0,339.0 1014.5,338.3 1016.0,338.3 1017.5,338.8 1019.0,339.3 1020.5,340.6 1022.0,341.9 1023.5,343.6 1025.0,344.9 1026.5,346.4 1028.0,347.8 1029.5,349.4 1031.0,350.0 1032.5,351.0 1034.0,351.9 1035.5,352.5 1037.0,353.1 1038.5,353.5 1040.0,354.1 1041.5,354.2 1043.0,354.4 1044.5,354.8 1046.0,355.0 1047.5,354.6 1049.0,354.9 1050.5,355.1 1052.0,355.2 1053.5,355.7 1055.0,355.5 1056.5,355.3 1058.0,355.1 1059.5,355.7 1061.0,355.4 1062.5,355.0 1064.0,355.2 1065.5,355.3 1067.0,355.1 1068.5,355.3 1070.0,355.3 1071.5,355.1 1073.0,355.0 1074.5,355.2 1076.0,354.6 1077.5,355.0 1079.0,354.6 1080.5,353.7 1082.0,354.0 1083.5,353.4 1085.0,353.4 1086.5,352.9 1088.0,352.6 1089.5,352.3 1091.0,352.0 1092.5,351.8 1094.0,352.1 1095.5,352.2 1097.0,352.8 1098.5,352.6 1100.0,352.8 1101.5,352.7 1103.0,352.8 1104.5,352.5 1106.0,351.8 1107.5,351.3 1109.0,350.5 1110.5,349.7 1112.0,348.4 1113.5,346.9 1115.0,345.3 1116.5,343.9 1118.0,342.2 1119.5,340.4 1121.0,339.3 1122.5,337.8 1124.0,337.4 1125.5,337.3 1127.0,338.2 1128.5,339.0 1130.0,340.0 1131.5,341.2 1133.0,342.5 1134.5,343.4 1136.0,344.3 1137.5,345.1 1139.0,345.9 1140.5,345.4 1142.0,345.8 1143.5,345.5 1145.0,345.6 1146.5,345.4 1148.0,345.3 1149.5,345.6 1151.0,346.0 1152.5,346.9 1154.0,347.3 1155.5,348.9 1157.0,349.6 1158.5,350.2 1160.0,351.3 1161.5,352.0 1163.0,352.9 1164.5,353.0 1166.0,354.0 1167.5,354.0 1169.0,354.4 1170.5,354.5 1172.0,354.6 1173.5,355.2 1175.0,355.3 1176.5,355.4 1178.0,355.7 1179.5,355.3 1181.0,355.6 1182.5,355.6 1184.0,355.8 1185.5,355.7 1187.0,355.8 1188.5,355.8 1190.0,356.0 1191.5,355.6 1193.0,356.0 1194.5,356.3 1196.0,355.8 1197.5,356.0 1199.0,356.1 1200.5,355.5 1202.0,356.0 1203.5,356.2 1205.0,356.1 1206.5,356.0 1208.0,356.1 1209.5,355.8 1211.0,355.9 1212.5,356.2 1214.0,356.1 1215.5,356.0 1217.0,356.2 1218.5,356.2 1220.0,356.0 1221.5,356.1 1223.0,356.4 1224.5,356.3 1226.0,356.2 1227.5,356.2 1229.0,356.3 1230.5,355.9 1232.0,356.4 1233.5,356.4 1235.0,356.2 1236.5,356.6 1238.0,356.4 1239.5,356.1 1241.0,356.5 1242.5,356.4 1244.0,356.0 1245.5,356.1 1247.0,356.2 1248.5,356.2 1250.0,356.4 1251.5,356.2 1253.0,356.3 1254.5,355.8 1256.0,356.2 1257.5,356.3 1259.0,356.3 1260.5,356.3 1262.0,356.5 1263.5,356.4 1265.0,356.0 1266.5,356.5 1268.0,356.4 1269.5,356.1 1271.0,356.0 1272.5,356.5 1274.0,356.0" fill="none" stroke="#6ed6da" stroke-width="3.6" stroke-linejoin="round"/>
<polyline points="95.0,457.3 96.5,456.6 98.0,457.0 99.5,457.3 101.0,456.9 102.5,457.0 104.0,457.5 105.5,456.4 107.0,457.3 108.5,456.8 110.0,457.4 111.5,457.8 113.0,457.6 114.5,457.2 116.0,457.0 117.5,456.6 119.0,457.2 120.5,457.3 122.0,457.6 123.5,457.2 125.0,457.1 126.5,458.0 128.0,456.7 129.5,456.8 131.0,456.4 132.5,457.5 134.0,457.2 135.5,457.2 137.0,457.6 138.5,457.5 140.0,457.5 141.5,457.0 143.0,457.0 144.5,456.7 146.0,457.3 147.5,457.7 149.0,457.0 150.5,457.0 152.0,456.9 153.5,456.7 155.0,457.4 156.5,456.9 158.0,457.5 159.5,457.1 161.0,456.9 162.5,457.2 164.0,457.1 165.5,457.6 167.0,457.4 168.5,457.1 170.0,457.6 171.5,457.4 173.0,456.3 174.5,457.0 176.0,457.4 177.5,457.5 179.0,456.6 180.5,458.1 182.0,457.2 183.5,456.9 185.0,457.3 186.5,456.9 188.0,457.5 189.5,457.1 191.0,457.1 192.5,457.1 194.0,457.1 195.5,457.1 197.0,456.7 198.5,457.2 200.0,457.3 201.5,457.2 203.0,457.2 204.5,457.6 206.0,457.8 207.5,457.6 209.0,457.0 210.5,457.3 212.0,457.2 213.5,456.1 215.0,456.7 216.5,457.1 218.0,457.3 219.5,456.6 221.0,457.3 222.5,456.6 224.0,456.8 225.5,456.5 227.0,457.3 228.5,456.7 230.0,457.6 231.5,457.1 233.0,456.6 234.5,456.7 236.0,457.6 237.5,456.7 239.0,456.8 240.5,457.0 242.0,457.2 243.5,457.0 245.0,457.1 246.5,456.6 248.0,456.8 249.5,456.5 251.0,456.7 252.5,457.3 254.0,456.8 255.5,456.1 257.0,457.2 258.5,456.7 260.0,457.1 261.5,457.1 263.0,456.7 264.5,456.5 266.0,456.5 267.5,456.6 269.0,456.4 270.5,457.3 272.0,456.4 273.5,456.5 275.0,456.7 276.5,456.6 278.0,456.9 279.5,456.2 281.0,456.8 282.5,457.0 284.0,456.5 285.5,456.7 287.0,456.5 288.5,455.9 290.0,456.4 291.5,456.3 293.0,455.5 294.5,456.7 296.0,456.1 297.5,455.7 299.0,455.5 300.5,455.2 302.0,456.2 303.5,455.7 305.0,455.8 306.5,455.9 308.0,455.9 309.5,456.0 311.0,455.3 312.5,455.0 314.0,455.5 315.5,454.7 317.0,454.9 318.5,454.9 320.0,455.2 321.5,453.6 323.0,453.4 324.5,453.4 326.0,453.0 327.5,452.8 329.0,451.5 330.5,450.8 332.0,449.5 333.5,448.2 335.0,446.9 336.5,444.6 338.0,440.7 339.5,437.5 341.0,432.0 342.5,426.2 344.0,421.0 345.5,415.0 347.0,412.0 348.5,411.7 350.0,415.3 351.5,420.2 353.0,425.9 354.5,430.8 356.0,435.9 357.5,439.8 359.0,443.4 360.5,445.1 362.0,447.1 363.5,448.1 365.0,448.9 366.5,449.3 368.0,449.8 369.5,450.3 371.0,450.5 372.5,450.1 374.0,450.8 375.5,450.4 377.0,449.7 378.5,449.9 380.0,449.0 381.5,448.4 383.0,447.3 384.5,446.7 386.0,446.6 387.5,444.8 389.0,443.3 390.5,441.4 392.0,439.7 393.5,437.2 395.0,435.2 396.5,433.6 398.0,431.0 399.5,429.1 401.0,425.6 402.5,424.4 404.0,423.1 405.5,423.0 407.0,422.7 408.5,423.1 410.0,424.6 411.5,426.2 413.0,427.9 414.5,428.6 416.0,431.0 417.5,432.4 419.0,432.9 420.5,433.2 422.0,433.1 423.5,432.7 425.0,432.1 426.5,430.5 428.0,428.4 429.5,426.7 431.0,422.5 432.5,418.8 434.0,415.6 435.5,410.0 437.0,403.9 438.5,398.4 440.0,393.5 441.5,391.7 443.0,390.8 444.5,392.5 446.0,396.6 447.5,403.4 449.0,409.9 450.5,417.1 452.0,424.0 453.5,430.9 455.0,435.7 456.5,440.2 458.0,443.9 459.5,446.0 461.0,448.6 462.5,449.5 464.0,451.4 465.5,451.4 467.0,452.0 468.5,453.4 470.0,453.4 471.5,453.7 473.0,454.4 474.5,454.0 476.0,454.3 477.5,455.0 479.0,454.8 480.5,454.7 482.0,455.2 483.5,455.5 485.0,454.8 486.5,455.8 488.0,455.4 489.5,455.2 491.0,455.4 492.5,456.4 494.0,456.0 495.5,456.0 497.0,456.1 498.5,455.8 500.0,455.9 501.5,456.1 503.0,456.1 504.5,455.8 506.0,455.8 507.5,457.0 509.0,455.5 510.5,456.5 512.0,456.1 513.5,457.0 515.0,456.6 516.5,456.9 518.0,456.1 519.5,456.2 521.0,456.5 522.5,456.6 524.0,456.4 525.5,456.9 527.0,456.8 528.5,456.9 530.0,456.3 531.5,456.6 533.0,457.1 534.5,456.6 536.0,456.5 537.5,456.2 539.0,456.9 540.5,456.6 542.0,456.0 543.5,456.9 545.0,456.9 546.5,456.6 548.0,457.0 549.5,456.8 551.0,457.0 552.5,457.1 554.0,456.5 555.5,457.0 557.0,457.2 558.5,457.0 560.0,456.9 561.5,456.8 563.0,456.5 564.5,456.2 566.0,457.3 567.5,457.0 569.0,457.5 570.5,456.8 572.0,456.7 573.5,457.1 575.0,457.2 576.5,457.3 578.0,457.5 579.5,456.7 581.0,456.3 582.5,457.3 584.0,456.4 585.5,457.0 587.0,457.4 588.5,456.8 590.0,456.7 591.5,456.8 593.0,457.1 594.5,456.4 596.0,457.1 597.5,456.7 599.0,456.7 600.5,457.3 602.0,457.6 603.5,457.6 605.0,457.1 606.5,456.8 608.0,457.6 609.5,457.2 611.0,456.4 612.5,457.6 614.0,456.8 615.5,456.8 617.0,456.7 618.5,457.5 620.0,456.8 621.5,457.4 623.0,456.5 624.5,457.2 626.0,456.8 627.5,457.2 629.0,456.9 630.5,457.4 632.0,456.8 633.5,456.7 635.0,456.9 636.5,456.3 638.0,456.7 639.5,456.5 641.0,456.6 642.5,456.1 644.0,457.0 645.5,456.8 647.0,456.8 648.5,456.4 650.0,456.5 651.5,456.3 653.0,456.4 654.5,456.6 656.0,456.4 657.5,456.1 659.0,457.0 660.5,455.5 662.0,456.0 663.5,455.7 665.0,455.2 666.5,455.1 668.0,455.1 669.5,454.2 671.0,453.1 672.5,452.7 674.0,452.0 675.5,452.0 677.0,451.1 678.5,449.9 680.0,449.1 681.5,448.9 683.0,448.7 684.5,448.6 686.0,447.2 687.5,448.2 689.0,447.7 690.5,447.9 692.0,447.6 693.5,449.3 695.0,450.1 696.5,450.7 698.0,451.4 699.5,451.8 701.0,452.6 702.5,453.8 704.0,454.8 705.5,454.4 707.0,455.1 708.5,454.7 710.0,456.0 711.5,455.7 713.0,456.2 714.5,456.4 716.0,455.6 717.5,456.3 719.0,456.5 720.5,456.2 722.0,456.8 723.5,456.7 725.0,456.9 726.5,456.0 728.0,456.6 729.5,456.5 731.0,456.4 732.5,456.9 734.0,456.9 735.5,457.4 737.0,456.7 738.5,456.8 740.0,457.0 741.5,456.5 743.0,457.5 744.5,456.8 746.0,457.4 747.5,457.3 749.0,457.0 750.5,456.5 752.0,457.4 753.5,457.3 755.0,457.4 756.5,456.2 758.0,456.8 759.5,456.8 761.0,456.2 762.5,456.9 764.0,457.8 765.5,457.2 767.0,457.4 768.5,456.3 770.0,457.5 771.5,456.9 773.0,457.2 774.5,457.2 776.0,457.0 777.5,457.1 779.0,457.3 780.5,457.5 782.0,457.2 783.5,457.4 785.0,457.3 786.5,457.0 788.0,457.1 789.5,456.8 791.0,457.1 792.5,456.3 794.0,457.3 795.5,457.3 797.0,456.6 798.5,457.2 800.0,456.9 801.5,456.6 803.0,457.0 804.5,457.1 806.0,456.6 807.5,456.8 809.0,457.1 810.5,457.4 812.0,457.0 813.5,457.5 815.0,457.2 816.5,457.3 818.0,456.8 819.5,456.6 821.0,457.1 822.5,457.0 824.0,457.2 825.5,457.3 827.0,456.9 828.5,456.5 830.0,456.6 831.5,456.5 833.0,456.8 834.5,457.6 836.0,456.3 837.5,456.1 839.0,456.2 840.5,456.1 842.0,456.0 843.5,455.4 845.0,456.2 846.5,455.6 848.0,455.8 849.5,455.8 851.0,455.9 852.5,455.8 854.0,455.9 855.5,455.0 857.0,455.0 858.5,454.9 860.0,454.2 861.5,453.8 863.0,452.0 864.5,451.7 866.0,450.5 867.5,449.7 869.0,448.2 870.5,445.9 872.0,444.7 873.5,442.8 875.0,440.7 876.5,439.2 878.0,438.6 879.5,438.1 881.0,438.1 882.5,438.8 884.0,438.9 885.5,441.5 887.0,442.6 888.5,444.9 890.0,446.3 891.5,447.3 893.0,448.7 894.5,450.1 896.0,451.5 897.5,452.6 899.0,453.3 900.5,453.9 902.0,454.0 903.5,454.3 905.0,455.0 906.5,455.6 908.0,456.0 909.5,455.7 911.0,456.0 912.5,456.7 914.0,455.6 915.5,456.2 917.0,456.4 918.5,456.7 920.0,456.7 921.5,456.1 923.0,456.8 924.5,456.5 926.0,456.3 927.5,455.9 929.0,456.4 930.5,456.6 932.0,456.8 933.5,456.3 935.0,456.3 936.5,456.8 938.0,456.5 939.5,456.8 941.0,457.3 942.5,457.1 944.0,456.4 945.5,456.2 947.0,456.5 948.5,456.8 950.0,457.0 951.5,456.5 953.0,456.6 954.5,457.3 956.0,456.5 957.5,457.0 959.0,456.5 960.5,456.5 962.0,456.4 963.5,456.3 965.0,456.4 966.5,457.0 968.0,457.0 969.5,456.2 971.0,456.4 972.5,457.1 974.0,457.2 975.5,456.1 977.0,455.6 978.5,456.0 980.0,456.4 981.5,456.1 983.0,457.1 984.5,456.3 986.0,455.4 987.5,455.3 989.0,456.2 990.5,454.7 992.0,454.7 993.5,454.2 995.0,454.2 996.5,453.6 998.0,453.5 999.5,452.3 1001.0,451.5 1002.5,451.4 1004.0,450.2 1005.5,449.7 1007.0,448.4 1008.5,447.7 1010.0,448.2 1011.5,446.6 1013.0,446.0 1014.5,446.3 1016.0,446.2 1017.5,446.4 1019.0,447.1 1020.5,447.3 1022.0,447.3 1023.5,448.4 1025.0,448.8 1026.5,449.8 1028.0,450.5 1029.5,451.6 1031.0,452.0 1032.5,452.2 1034.0,452.9 1035.5,453.8 1037.0,454.6 1038.5,455.1 1040.0,455.0 1041.5,455.2 1043.0,456.2 1044.5,455.6 1046.0,455.7 1047.5,455.9 1049.0,456.3 1050.5,455.3 1052.0,455.9 1053.5,456.8 1055.0,456.6 1056.5,456.1 1058.0,456.2 1059.5,456.4 1061.0,456.5 1062.5,456.5 1064.0,456.6 1065.5,456.9 1067.0,456.3 1068.5,457.5 1070.0,456.8 1071.5,456.0 1073.0,456.8 1074.5,456.9 1076.0,455.8 1077.5,456.1 1079.0,456.5 1080.5,456.6 1082.0,456.5 1083.5,456.5 1085.0,456.4 1086.5,456.5 1088.0,456.0 1089.5,456.4 1091.0,456.7 1092.5,456.4 1094.0,455.9 1095.5,456.1 1097.0,456.4 1098.5,454.8 1100.0,454.9 1101.5,454.9 1103.0,454.5 1104.5,453.7 1106.0,452.8 1107.5,452.9 1109.0,451.8 1110.5,451.3 1112.0,450.1 1113.5,449.6 1115.0,448.9 1116.5,447.2 1118.0,446.2 1119.5,445.0 1121.0,444.7 1122.5,443.4 1124.0,443.5 1125.5,442.9 1127.0,443.7 1128.5,443.5 1130.0,444.6 1131.5,445.2 1133.0,445.5 1134.5,447.2 1136.0,447.5 1137.5,446.9 1139.0,448.5 1140.5,448.4 1142.0,448.3 1143.5,448.1 1145.0,448.9 1146.5,448.8 1148.0,449.5 1149.5,449.5 1151.0,449.4 1152.5,450.2 1154.0,450.9 1155.5,451.3 1157.0,452.0 1158.5,452.6 1160.0,453.4 1161.5,454.1 1163.0,454.0 1164.5,455.1 1166.0,454.6 1167.5,454.5 1169.0,455.0 1170.5,454.9 1172.0,456.3 1173.5,456.0 1175.0,456.5 1176.5,456.6 1178.0,457.0 1179.5,456.9 1181.0,456.2 1182.5,456.3 1184.0,456.2 1185.5,456.3 1187.0,456.4 1188.5,457.0 1190.0,456.8 1191.5,456.5 1193.0,456.4 1194.5,457.0 1196.0,457.0 1197.5,457.0 1199.0,456.3 1200.5,456.7 1202.0,457.0 1203.5,457.2 1205.0,456.8 1206.5,457.6 1208.0,457.1 1209.5,457.2 1211.0,457.2 1212.5,456.9 1214.0,456.9 1215.5,455.9 1217.0,457.0 1218.5,456.8 1220.0,457.3 1221.5,457.7 1223.0,456.7 1224.5,456.4 1226.0,457.4 1227.5,457.1 1229.0,456.7 1230.5,457.1 1232.0,458.0 1233.5,456.7 1235.0,457.2 1236.5,456.8 1238.0,457.5 1239.5,456.8 1241.0,456.7 1242.5,457.4 1244.0,457.0 1245.5,457.4 1247.0,457.3 1248.5,457.5 1250.0,457.3 1251.5,457.4 1253.0,456.7 1254.5,457.2 1256.0,457.6 1257.5,456.7 1259.0,457.0 1260.5,456.8 1262.0,457.2 1263.5,456.9 1265.0,457.2 1266.5,457.5 1268.0,457.1 1269.5,457.1 1271.0,457.1 1272.5,456.9 1274.0,457.8" fill="none" stroke="#72b666" stroke-width="3.6" stroke-linejoin="round"/>
<polyline points="95.0,558.2 96.5,558.6 98.0,558.4 99.5,558.1 101.0,558.3 102.5,558.5 104.0,558.0 105.5,558.3 107.0,557.9 108.5,557.8 110.0,558.4 111.5,558.7 113.0,558.2 114.5,558.0 116.0,558.1 117.5,558.7 119.0,558.9 120.5,558.6 122.0,558.6 123.5,558.0 125.0,558.2 126.5,557.9 128.0,558.3 129.5,557.6 131.0,558.2 132.5,558.0 134.0,558.4 135.5,558.1 137.0,557.8 138.5,558.0 140.0,557.8 141.5,558.4 143.0,558.1 144.5,557.6 146.0,558.1 147.5,558.3 149.0,558.3 150.5,558.4 152.0,558.2 153.5,557.7 155.0,558.0 156.5,558.2 158.0,558.5 159.5,558.6 161.0,557.3 162.5,558.4 164.0,558.2 165.5,558.4 167.0,558.1 168.5,558.3 170.0,558.1 171.5,557.7 173.0,558.4 174.5,558.0 176.0,558.2 177.5,557.9 179.0,558.4 180.5,558.0 182.0,558.5 183.5,558.8 185.0,558.6 186.5,558.5 188.0,558.6 189.5,558.3 191.0,557.8 192.5,558.6 194.0,558.0 195.5,558.1 197.0,558.4 198.5,558.5 200.0,558.0 201.5,558.0 203.0,558.2 204.5,558.2 206.0,558.1 207.5,558.6 209.0,558.1 210.5,558.0 212.0,557.5 213.5,558.5 215.0,558.4 216.5,558.1 218.0,558.3 219.5,558.2 221.0,558.1 222.5,558.2 224.0,558.1 225.5,557.9 227.0,558.6 228.5,557.8 230.0,558.8 231.5,557.4 233.0,557.7 234.5,558.2 236.0,557.6 237.5,558.0 239.0,557.8 240.5,557.7 242.0,557.8 243.5,557.9 245.0,557.7 246.5,558.0 248.0,558.0 249.5,558.2 251.0,558.5 252.5,557.3 254.0,557.6 255.5,558.3 257.0,557.7 258.5,557.7 260.0,558.6 261.5,558.1 263.0,557.8 264.5,557.1 266.0,557.3 267.5,557.3 269.0,557.6 270.5,557.3 272.0,558.1 273.5,557.4 275.0,557.3 276.5,558.0 278.0,557.5 279.5,557.0 281.0,556.8 282.5,557.0 284.0,557.7 285.5,557.4 287.0,557.5 288.5,556.9 290.0,557.6 291.5,557.6 293.0,557.8 294.5,557.1 296.0,556.9 297.5,557.2 299.0,557.2 300.5,557.0 302.0,556.3 303.5,557.2 305.0,556.7 306.5,556.5 308.0,556.3 309.5,555.9 311.0,555.9 312.5,556.0 314.0,555.4 315.5,555.4 317.0,555.5 318.5,555.3 320.0,555.5 321.5,554.8 323.0,554.8 324.5,554.5 326.0,553.7 327.5,553.6 329.0,552.6 330.5,551.5 332.0,550.0 333.5,548.7 335.0,546.5 336.5,543.7 338.0,541.0 339.5,538.2 341.0,534.3 342.5,529.6 344.0,524.8 345.5,520.7 347.0,516.7 348.5,514.1 350.0,512.9 351.5,513.4 353.0,516.3 354.5,521.3 356.0,525.6 357.5,530.4 359.0,534.6 360.5,537.8 362.0,540.8 363.5,543.6 365.0,545.2 366.5,547.1 368.0,547.8 369.5,549.2 371.0,549.3 372.5,550.0 374.0,550.1 375.5,550.0 377.0,550.6 378.5,550.2 380.0,549.7 381.5,549.4 383.0,548.7 384.5,548.5 386.0,547.9 387.5,546.7 389.0,545.5 390.5,544.7 392.0,542.6 393.5,541.2 395.0,539.4 396.5,537.4 398.0,535.8 399.5,532.4 401.0,530.9 402.5,528.2 404.0,526.0 405.5,524.5 407.0,523.5 408.5,523.6 410.0,523.9 411.5,524.7 413.0,525.5 414.5,527.5 416.0,528.2 417.5,529.3 419.0,529.9 420.5,530.3 422.0,530.0 423.5,530.0 425.0,528.6 426.5,527.6 428.0,526.8 429.5,525.2 431.0,523.6 432.5,521.8 434.0,518.3 435.5,515.1 437.0,509.7 438.5,506.0 440.0,501.1 441.5,496.7 443.0,493.2 444.5,491.3 446.0,492.1 447.5,494.8 449.0,498.5 450.5,504.8 452.0,512.2 453.5,519.4 455.0,527.0 456.5,533.0 458.0,538.1 459.5,543.8 461.0,547.6 462.5,549.9 464.0,552.9 465.5,553.0 467.0,555.0 468.5,555.4 470.0,555.7 471.5,555.5 473.0,556.0 474.5,557.0 476.0,557.0 477.5,556.5 479.0,557.4 480.5,556.8 482.0,557.1 483.5,556.6 485.0,556.5 486.5,557.9 488.0,556.9 489.5,556.9 491.0,557.4 492.5,557.4 494.0,557.7 495.5,557.4 497.0,557.2 498.5,556.9 500.0,556.9 501.5,557.5 503.0,557.7 504.5,557.1 506.0,558.5 507.5,558.0 509.0,557.3 510.5,556.8 512.0,557.9 513.5,557.6 515.0,558.0 516.5,557.7 518.0,557.7 519.5,558.0 521.0,557.6 522.5,557.8 524.0,557.6 525.5,557.8 527.0,558.2 528.5,557.7 530.0,557.5 531.5,558.1 533.0,557.4 534.5,557.7 536.0,558.0 537.5,557.9 539.0,558.0 540.5,558.2 542.0,557.6 543.5,557.6 545.0,558.1 546.5,558.0 548.0,558.0 549.5,557.7 551.0,557.4 552.5,558.2 554.0,557.8 555.5,558.0 557.0,557.8 558.5,557.5 560.0,558.3 561.5,558.7 563.0,558.0 564.5,558.6 566.0,557.4 567.5,558.2 569.0,558.1 570.5,557.9 572.0,557.9 573.5,558.2 575.0,558.0 576.5,557.7 578.0,558.1 579.5,557.4 581.0,557.9 582.5,558.9 584.0,557.7 585.5,558.6 587.0,557.9 588.5,557.2 590.0,557.7 591.5,558.4 593.0,558.3 594.5,558.0 596.0,557.5 597.5,558.3 599.0,557.7 600.5,557.9 602.0,558.1 603.5,558.1 605.0,557.4 606.5,558.6 608.0,558.4 609.5,557.7 611.0,557.7 612.5,558.5 614.0,558.3 615.5,558.4 617.0,557.8 618.5,558.2 620.0,557.5 621.5,557.7 623.0,557.9 624.5,557.9 626.0,557.8 627.5,557.7 629.0,558.0 630.5,557.9 632.0,557.7 633.5,558.0 635.0,557.6 636.5,558.0 638.0,558.2 639.5,557.8 641.0,557.3 642.5,557.3 644.0,558.4 645.5,557.7 647.0,558.0 648.5,557.9 650.0,557.9 651.5,557.8 653.0,557.8 654.5,557.7 656.0,557.4 657.5,557.9 659.0,557.8 660.5,557.6 662.0,557.5 663.5,556.7 665.0,557.1 666.5,556.4 668.0,556.1 669.5,555.5 671.0,555.3 672.5,554.4 674.0,554.3 675.5,553.5 677.0,552.7 678.5,552.7 680.0,551.4 681.5,550.3 683.0,550.1 684.5,549.6 686.0,548.4 687.5,548.8 689.0,548.3 690.5,549.7 692.0,549.2 693.5,549.9 695.0,550.3 696.5,550.7 698.0,551.9 699.5,552.6 701.0,554.2 702.5,553.6 704.0,554.0 705.5,555.0 707.0,555.7 708.5,555.8 710.0,555.9 711.5,556.3 713.0,556.1 714.5,557.2 716.0,557.6 717.5,557.1 719.0,557.0 720.5,557.7 722.0,557.6 723.5,557.9 725.0,558.1 726.5,558.0 728.0,558.5 729.5,557.7 731.0,557.7 732.5,557.5 734.0,558.2 735.5,558.1 737.0,558.5 738.5,558.4 740.0,557.6 741.5,557.0 743.0,558.4 744.5,558.1 746.0,557.7 747.5,558.3 749.0,557.8 750.5,558.1 752.0,558.1 753.5,557.7 755.0,558.1 756.5,558.5 758.0,557.8 759.5,558.1 761.0,558.3 762.5,558.4 764.0,557.9 765.5,558.3 767.0,558.0 768.5,557.7 770.0,558.1 771.5,557.7 773.0,558.6 774.5,557.9 776.0,557.9 777.5,557.4 779.0,558.1 780.5,557.8 782.0,558.1 783.5,558.5 785.0,558.4 786.5,558.3 788.0,557.8 789.5,558.4 791.0,558.1 792.5,557.8 794.0,557.6 795.5,557.7 797.0,557.5 798.5,558.5 800.0,558.2 801.5,557.9 803.0,557.7 804.5,557.9 806.0,558.3 807.5,558.1 809.0,558.6 810.5,557.7 812.0,558.6 813.5,557.9 815.0,557.6 816.5,557.7 818.0,558.5 819.5,557.9 821.0,558.1 822.5,558.0 824.0,557.3 825.5,557.8 827.0,558.4 828.5,558.2 830.0,557.6 831.5,557.7 833.0,558.2 834.5,558.3 836.0,557.9 837.5,557.8 839.0,557.3 840.5,557.8 842.0,557.3 843.5,557.1 845.0,558.0 846.5,557.6 848.0,556.7 849.5,557.3 851.0,557.1 852.5,556.6 854.0,557.0 855.5,556.7 857.0,556.9 858.5,555.7 860.0,555.7 861.5,555.1 863.0,555.2 864.5,553.2 866.0,552.3 867.5,551.7 869.0,549.7 870.5,549.5 872.0,547.0 873.5,545.9 875.0,542.6 876.5,542.8 878.0,540.8 879.5,539.4 881.0,538.2 882.5,538.0 884.0,538.6 885.5,539.8 887.0,540.3 888.5,542.9 890.0,544.3 891.5,545.5 893.0,548.3 894.5,549.7 896.0,550.4 897.5,551.8 899.0,553.5 900.5,553.9 902.0,554.0 903.5,555.3 905.0,555.4 906.5,556.0 908.0,556.6 909.5,556.1 911.0,556.5 912.5,556.5 914.0,557.1 915.5,557.2 917.0,557.2 918.5,557.2 920.0,557.5 921.5,557.6 923.0,557.0 924.5,557.9 926.0,557.7 927.5,557.8 929.0,557.8 930.5,558.1 932.0,558.0 933.5,557.4 935.0,557.9 936.5,558.0 938.0,557.2 939.5,558.3 941.0,557.4 942.5,557.7 944.0,558.3 945.5,558.0 947.0,558.0 948.5,557.4 950.0,557.5 951.5,557.9 953.0,558.2 954.5,558.4 956.0,557.9 957.5,558.3 959.0,557.9 960.5,557.9 962.0,557.7 963.5,557.4 965.0,557.7 966.5,557.6 968.0,557.8 969.5,557.3 971.0,557.4 972.5,557.1 974.0,557.1 975.5,557.9 977.0,558.1 978.5,557.3 980.0,557.0 981.5,557.6 983.0,556.8 984.5,557.2 986.0,557.1 987.5,556.8 989.0,557.3 990.5,557.1 992.0,556.4 993.5,556.4 995.0,555.7 996.5,555.3 998.0,555.7 999.5,554.5 1001.0,553.5 1002.5,553.8 1004.0,552.4 1005.5,552.0 1007.0,551.4 1008.5,549.5 1010.0,548.7 1011.5,548.5 1013.0,547.8 1014.5,546.7 1016.0,546.4 1017.5,546.7 1019.0,546.5 1020.5,547.1 1022.0,547.7 1023.5,548.1 1025.0,549.2 1026.5,549.6 1028.0,550.7 1029.5,551.6 1031.0,552.4 1032.5,552.8 1034.0,553.3 1035.5,554.0 1037.0,555.0 1038.5,555.0 1040.0,555.9 1041.5,556.3 1043.0,556.3 1044.5,556.2 1046.0,556.5 1047.5,556.7 1049.0,556.5 1050.5,556.8 1052.0,557.3 1053.5,557.0 1055.0,557.4 1056.5,557.3 1058.0,557.2 1059.5,557.5 1061.0,558.0 1062.5,557.6 1064.0,557.6 1065.5,557.6 1067.0,557.7 1068.5,557.9 1070.0,558.1 1071.5,557.3 1073.0,557.3 1074.5,557.4 1076.0,557.5 1077.5,556.8 1079.0,557.2 1080.5,557.4 1082.0,557.1 1083.5,557.4 1085.0,557.1 1086.5,557.2 1088.0,557.1 1089.5,557.2 1091.0,557.3 1092.5,556.8 1094.0,556.5 1095.5,557.1 1097.0,556.8 1098.5,556.8 1100.0,555.8 1101.5,555.9 1103.0,555.2 1104.5,555.4 1106.0,554.3 1107.5,554.2 1109.0,553.6 1110.5,552.5 1112.0,552.0 1113.5,551.2 1115.0,549.8 1116.5,549.1 1118.0,547.7 1119.5,546.3 1121.0,546.4 1122.5,545.5 1124.0,545.2 1125.5,544.5 1127.0,543.6 1128.5,543.6 1130.0,543.8 1131.5,544.0 1133.0,544.9 1134.5,545.7 1136.0,545.3 1137.5,546.1 1139.0,546.3 1140.5,547.1 1142.0,547.2 1143.5,547.9 1145.0,548.1 1146.5,548.5 1148.0,548.7 1149.5,548.8 1151.0,549.6 1152.5,551.5 1154.0,551.2 1155.5,551.9 1157.0,552.3 1158.5,553.2 1160.0,554.2 1161.5,554.8 1163.0,555.1 1164.5,555.7 1166.0,555.4 1167.5,556.0 1169.0,556.4 1170.5,556.4 1172.0,556.1 1173.5,557.1 1175.0,557.2 1176.5,557.4 1178.0,557.8 1179.5,557.7 1181.0,557.9 1182.5,557.4 1184.0,557.5 1185.5,557.4 1187.0,558.0 1188.5,557.4 1190.0,558.1 1191.5,557.9 1193.0,557.4 1194.5,557.4 1196.0,557.5 1197.5,557.2 1199.0,557.6 1200.5,558.0 1202.0,558.0 1203.5,558.3 1205.0,557.9 1206.5,558.3 1208.0,558.2 1209.5,558.4 1211.0,558.6 1212.5,557.2 1214.0,557.8 1215.5,558.8 1217.0,557.9 1218.5,558.3 1220.0,558.9 1221.5,558.2 1223.0,558.1 1224.5,557.9 1226.0,557.8 1227.5,558.4 1229.0,558.2 1230.5,557.9 1232.0,558.0 1233.5,558.0 1235.0,558.1 1236.5,557.8 1238.0,558.6 1239.5,558.7 1241.0,557.6 1242.5,558.1 1244.0,557.8 1245.5,558.1 1247.0,558.3 1248.5,558.4 1250.0,558.2 1251.5,558.4 1253.0,558.3 1254.5,558.3 1256.0,558.0 1257.5,558.0 1259.0,557.7 1260.5,558.5 1262.0,558.3 1263.5,557.9 1265.0,558.1 1266.5,559.1 1268.0,558.1 1269.5,558.3 1271.0,558.4 1272.5,558.4 1274.0,558.5" fill="none" stroke="#d6b232" stroke-width="3.6" stroke-linejoin="round"/>
<polyline points="95.0,659.8 96.5,659.9 98.0,659.9 99.5,659.8 101.0,659.8 102.5,659.9 104.0,659.9 105.5,659.9 107.0,659.8 108.5,659.9 110.0,659.8 111.5,659.9 113.0,659.9 114.5,659.9 116.0,659.9 117.5,659.8 119.0,659.9 120.5,659.9 122.0,659.9 123.5,659.8 125.0,659.9 126.5,659.9 128.0,659.9 129.5,659.9 131.0,659.9 132.5,659.8 134.0,659.7 135.5,659.8 137.0,659.8 138.5,659.9 140.0,659.9 141.5,659.8 143.0,659.8 144.5,659.8 146.0,659.9 147.5,659.8 149.0,659.9 150.5,659.9 152.0,659.9 153.5,659.8 155.0,659.8 156.5,659.8 158.0,659.8 159.5,659.8 161.0,659.8 162.5,659.8 164.0,659.8 165.5,659.9 167.0,659.8 168.5,659.8 170.0,659.9 171.5,659.8 173.0,659.9 174.5,659.9 176.0,659.8 177.5,659.8 179.0,659.9 180.5,659.8 182.0,659.8 183.5,659.7 185.0,659.8 186.5,659.8 188.0,659.7 189.5,659.8 191.0,659.8 192.5,659.8 194.0,659.8 195.5,659.8 197.0,659.8 198.5,659.7 200.0,659.8 201.5,659.8 203.0,659.8 204.5,659.8 206.0,659.8 207.5,659.8 209.0,659.7 210.5,659.7 212.0,659.8 213.5,659.7 215.0,659.8 216.5,659.8 218.0,659.7 219.5,659.8 221.0,659.7 222.5,659.7 224.0,659.7 225.5,659.7 227.0,659.7 228.5,659.7 230.0,659.6 231.5,659.7 233.0,659.6 234.5,659.7 236.0,659.6 237.5,659.6 239.0,659.6 240.5,659.7 242.0,659.6 243.5,659.6 245.0,659.6 246.5,659.5 248.0,659.7 249.5,659.5 251.0,659.4 252.5,659.5 254.0,659.6 255.5,659.4 257.0,659.4 258.5,659.4 260.0,659.5 261.5,659.5 263.0,659.4 264.5,659.4 266.0,659.3 267.5,659.4 269.0,659.5 270.5,659.4 272.0,659.3 273.5,659.2 275.0,659.3 276.5,659.3 278.0,659.3 279.5,659.2 281.0,659.3 282.5,659.1 284.0,659.1 285.5,659.1 287.0,659.0 288.5,659.0 290.0,658.9 291.5,658.9 293.0,658.9 294.5,658.9 296.0,658.8 297.5,658.7 299.0,658.7 300.5,658.6 302.0,658.6 303.5,658.5 305.0,658.6 306.5,658.3 308.0,658.1 309.5,658.1 311.0,658.0 312.5,657.9 314.0,657.8 315.5,657.5 317.0,657.4 318.5,657.2 320.0,656.9 321.5,656.7 323.0,656.3 324.5,655.9 326.0,655.4 327.5,654.9 329.0,654.2 330.5,653.3 332.0,652.2 333.5,650.8 335.0,648.8 336.5,646.5 338.0,643.5 339.5,640.2 341.0,636.2 342.5,632.1 344.0,628.1 345.5,624.9 347.0,623.4 348.5,624.1 350.0,626.6 351.5,630.2 353.0,634.2 354.5,638.1 356.0,641.5 357.5,644.4 359.0,646.7 360.5,648.5 362.0,649.9 363.5,650.8 365.0,651.6 366.5,652.1 368.0,652.4 369.5,652.6 371.0,652.6 372.5,652.5 374.0,652.5 375.5,652.1 377.0,651.9 378.5,651.4 380.0,651.0 381.5,650.4 383.0,649.7 384.5,648.7 386.0,647.8 387.5,646.9 389.0,645.7 390.5,644.3 392.0,643.1 393.5,641.6 395.0,640.0 396.5,638.6 398.0,637.0 399.5,635.7 401.0,634.5 402.5,633.4 404.0,632.7 405.5,632.1 407.0,632.1 408.5,632.2 410.0,632.6 411.5,633.2 413.0,633.9 414.5,634.6 416.0,635.3 417.5,635.8 419.0,636.3 420.5,636.7 422.0,636.8 423.5,636.9 425.0,636.5 426.5,635.7 428.0,634.5 429.5,632.6 431.0,629.9 432.5,626.5 434.0,622.7 435.5,618.4 437.0,614.4 438.5,610.9 440.0,608.2 441.5,607.1 443.0,607.5 444.5,609.3 446.0,612.6 447.5,617.2 449.0,622.3 450.5,628.1 452.0,633.6 453.5,638.8 455.0,643.4 456.5,647.3 458.0,650.5 459.5,652.8 461.0,654.6 462.5,655.8 464.0,656.6 465.5,657.4 467.0,657.7 468.5,658.0 470.0,658.2 471.5,658.3 473.0,658.4 474.5,658.6 476.0,658.5 477.5,658.6 479.0,658.7 480.5,658.7 482.0,658.7 483.5,658.9 485.0,658.8 486.5,658.9 488.0,658.8 489.5,658.9 491.0,659.0 492.5,659.1 494.0,659.1 495.5,659.0 497.0,659.1 498.5,659.2 500.0,659.2 501.5,659.1 503.0,659.3 504.5,659.1 506.0,659.2 507.5,659.2 509.0,659.3 510.5,659.2 512.0,659.3 513.5,659.3 515.0,659.3 516.5,659.4 518.0,659.4 519.5,659.4 521.0,659.4 522.5,659.4 524.0,659.4 525.5,659.5 527.0,659.5 528.5,659.5 530.0,659.5 531.5,659.5 533.0,659.5 534.5,659.4 536.0,659.5 537.5,659.5 539.0,659.5 540.5,659.6 542.0,659.5 543.5,659.6 545.0,659.5 546.5,659.6 548.0,659.6 549.5,659.6 551.0,659.6 552.5,659.6 554.0,659.7 555.5,659.5 557.0,659.6 558.5,659.7 560.0,659.7 561.5,659.7 563.0,659.7 564.5,659.6 566.0,659.7 567.5,659.6 569.0,659.7 570.5,659.7 572.0,659.6 573.5,659.7 575.0,659.7 576.5,659.6 578.0,659.7 579.5,659.6 581.0,659.7 582.5,659.7 584.0,659.7 585.5,659.7 587.0,659.7 588.5,659.7 590.0,659.6 591.5,659.6 593.0,659.7 594.5,659.7 596.0,659.6 597.5,659.6 599.0,659.7 600.5,659.8 602.0,659.7 603.5,659.6 605.0,659.6 606.5,659.7 608.0,659.6 609.5,659.7 611.0,659.6 612.5,659.7 614.0,659.6 615.5,659.6 617.0,659.7 618.5,659.6 620.0,659.7 621.5,659.7 623.0,659.7 624.5,659.7 626.0,659.6 627.5,659.6 629.0,659.6 630.5,659.6 632.0,659.6 633.5,659.6 635.0,659.5 636.5,659.6 638.0,659.6 639.5,659.5 641.0,659.5 642.5,659.5 644.0,659.6 645.5,659.5 647.0,659.4 648.5,659.4 650.0,659.3 651.5,659.3 653.0,659.2 654.5,659.2 656.0,659.1 657.5,659.0 659.0,658.8 660.5,658.6 662.0,658.5 663.5,658.3 665.0,658.1 666.5,657.7 668.0,657.4 669.5,657.0 671.0,656.6 672.5,656.1 674.0,655.7 675.5,655.2 677.0,654.6 678.5,654.1 680.0,653.5 681.5,653.1 683.0,652.7 684.5,652.5 686.0,652.4 687.5,652.5 689.0,652.6 690.5,652.8 692.0,653.2 693.5,653.7 695.0,654.2 696.5,654.8 698.0,655.3 699.5,655.8 701.0,656.3 702.5,656.7 704.0,657.2 705.5,657.5 707.0,657.8 708.5,658.1 710.0,658.3 711.5,658.6 713.0,658.7 714.5,658.9 716.0,659.1 717.5,659.1 719.0,659.3 720.5,659.4 722.0,659.4 723.5,659.4 725.0,659.5 726.5,659.3 728.0,659.5 729.5,659.5 731.0,659.5 732.5,659.4 734.0,659.6 735.5,659.5 737.0,659.6 738.5,659.6 740.0,659.6 741.5,659.7 743.0,659.6 744.5,659.5 746.0,659.5 747.5,659.6 749.0,659.7 750.5,659.7 752.0,659.7 753.5,659.7 755.0,659.7 756.5,659.7 758.0,659.7 759.5,659.7 761.0,659.7 762.5,659.6 764.0,659.7 765.5,659.7 767.0,659.7 768.5,659.6 770.0,659.6 771.5,659.8 773.0,659.8 774.5,659.7 776.0,659.8 777.5,659.8 779.0,659.7 780.5,659.7 782.0,659.7 783.5,659.7 785.0,659.7 786.5,659.7 788.0,659.7 789.5,659.6 791.0,659.8 792.5,659.7 794.0,659.8 795.5,659.6 797.0,659.7 798.5,659.8 800.0,659.8 801.5,659.7 803.0,659.6 804.5,659.7 806.0,659.7 807.5,659.8 809.0,659.5 810.5,659.7 812.0,659.7 813.5,659.6 815.0,659.6 816.5,659.5 818.0,659.6 819.5,659.6 821.0,659.5 822.5,659.6 824.0,659.5 825.5,659.5 827.0,659.5 828.5,659.5 830.0,659.5 831.5,659.4 833.0,659.4 834.5,659.5 836.0,659.4 837.5,659.3 839.0,659.3 840.5,659.1 842.0,659.1 843.5,659.1 845.0,659.1 846.5,659.0 848.0,658.9 849.5,658.7 851.0,658.7 852.5,658.4 854.0,658.3 855.5,658.0 857.0,657.7 858.5,657.3 860.0,656.7 861.5,656.1 863.0,655.5 864.5,654.7 866.0,653.7 867.5,652.7 869.0,651.4 870.5,650.2 872.0,648.9 873.5,647.7 875.0,646.4 876.5,645.4 878.0,644.6 879.5,644.4 881.0,644.5 882.5,645.0 884.0,645.7 885.5,646.8 887.0,648.1 888.5,649.4 890.0,650.6 891.5,651.9 893.0,653.0 894.5,654.0 896.0,654.9 897.5,655.7 899.0,656.3 900.5,656.9 902.0,657.4 903.5,657.8 905.0,658.1 906.5,658.2 908.0,658.6 909.5,658.7 911.0,658.8 912.5,658.9 914.0,659.0 915.5,659.0 917.0,659.1 918.5,659.1 920.0,659.3 921.5,659.2 923.0,659.3 924.5,659.3 926.0,659.3 927.5,659.3 929.0,659.4 930.5,659.4 932.0,659.3 933.5,659.4 935.0,659.4 936.5,659.5 938.0,659.4 939.5,659.5 941.0,659.5 942.5,659.5 944.0,659.5 945.5,659.5 947.0,659.5 948.5,659.5 950.0,659.5 951.5,659.5 953.0,659.4 954.5,659.4 956.0,659.4 957.5,659.5 959.0,659.5 960.5,659.4 962.0,659.4 963.5,659.3 965.0,659.3 966.5,659.4 968.0,659.3 969.5,659.2 971.0,659.3 972.5,659.3 974.0,659.2 975.5,659.1 977.0,659.1 978.5,659.0 980.0,659.0 981.5,658.9 983.0,658.8 984.5,658.6 986.0,658.5 987.5,658.2 989.0,658.1 990.5,657.7 992.0,657.4 993.5,657.0 995.0,656.6 996.5,656.2 998.0,655.7 999.5,655.2 1001.0,654.7 1002.5,654.1 1004.0,653.5 1005.5,652.9 1007.0,652.3 1008.5,651.8 1010.0,651.4 1011.5,651.0 1013.0,650.9 1014.5,650.8 1016.0,650.9 1017.5,651.1 1019.0,651.5 1020.5,652.0 1022.0,652.5 1023.5,653.1 1025.0,653.5 1026.5,654.1 1028.0,654.8 1029.5,655.4 1031.0,655.8 1032.5,656.4 1034.0,656.7 1035.5,657.1 1037.0,657.5 1038.5,657.7 1040.0,657.9 1041.5,658.2 1043.0,658.3 1044.5,658.6 1046.0,658.7 1047.5,658.8 1049.0,658.9 1050.5,658.9 1052.0,658.9 1053.5,659.1 1055.0,659.1 1056.5,659.1 1058.0,659.2 1059.5,659.2 1061.0,659.2 1062.5,659.2 1064.0,659.2 1065.5,659.2 1067.0,659.2 1068.5,659.2 1070.0,659.2 1071.5,659.2 1073.0,659.2 1074.5,659.2 1076.0,659.2 1077.5,659.2 1079.0,659.1 1080.5,659.1 1082.0,659.0 1083.5,659.0 1085.0,659.0 1086.5,658.8 1088.0,658.7 1089.5,658.8 1091.0,658.6 1092.5,658.5 1094.0,658.3 1095.5,658.0 1097.0,657.8 1098.5,657.7 1100.0,657.3 1101.5,657.0 1103.0,656.5 1104.5,656.1 1106.0,655.5 1107.5,654.9 1109.0,654.3 1110.5,653.7 1112.0,653.0 1113.5,652.2 1115.0,651.5 1116.5,650.8 1118.0,650.1 1119.5,649.4 1121.0,648.9 1122.5,648.5 1124.0,648.3 1125.5,648.2 1127.0,648.2 1128.5,648.4 1130.0,648.8 1131.5,649.2 1133.0,649.6 1134.5,650.0 1136.0,650.4 1137.5,650.9 1139.0,651.3 1140.5,651.5 1142.0,651.6 1143.5,652.0 1145.0,652.2 1146.5,652.5 1148.0,652.9 1149.5,653.1 1151.0,653.5 1152.5,654.0 1154.0,654.4 1155.5,654.9 1157.0,655.4 1158.5,655.9 1160.0,656.3 1161.5,656.7 1163.0,657.2 1164.5,657.5 1166.0,657.8 1167.5,658.0 1169.0,658.4 1170.5,658.5 1172.0,658.6 1173.5,658.8 1175.0,658.9 1176.5,659.0 1178.0,659.1 1179.5,659.1 1181.0,659.2 1182.5,659.4 1184.0,659.3 1185.5,659.4 1187.0,659.3 1188.5,659.5 1190.0,659.4 1191.5,659.5 1193.0,659.5 1194.5,659.5 1196.0,659.5 1197.5,659.5 1199.0,659.6 1200.5,659.6 1202.0,659.5 1203.5,659.6 1205.0,659.6 1206.5,659.7 1208.0,659.6 1209.5,659.6 1211.0,659.6 1212.5,659.7 1214.0,659.7 1215.5,659.8 1217.0,659.7 1218.5,659.7 1220.0,659.7 1221.5,659.9 1223.0,659.7 1224.5,659.8 1226.0,659.9 1227.5,659.8 1229.0,659.8 1230.5,659.7 1232.0,659.9 1233.5,659.9 1235.0,659.8 1236.5,659.9 1238.0,659.8 1239.5,659.9 1241.0,659.8 1242.5,659.9 1244.0,659.9 1245.5,659.9 1247.0,659.8 1248.5,659.8 1250.0,659.8 1251.5,659.8 1253.0,659.8 1254.5,659.9 1256.0,659.9 1257.5,659.8 1259.0,659.9 1260.5,660.0 1262.0,659.9 1263.5,659.9 1265.0,659.8 1266.5,659.9 1268.0,659.8 1269.5,659.9 1271.0,659.8 1272.5,660.0 1274.0,659.9" fill="none" stroke="#e02222" stroke-width="3.6" stroke-linejoin="round"/>
<line x1="196" y1="676" x2="196" y2="70" stroke="#000" stroke-width="5.5" stroke-linecap="round"/>
<polygon points="196.3,30 181.5,72 211.5,72" fill="#000" stroke="#000" stroke-width="4.5" stroke-linejoin="round"/>
<rect x="93.3" y="1.5" width="1181.7" height="689.2" fill="none" stroke="#000" stroke-width="3"/>
<rect x="93.3" y="694.3" width="1180.9" height="241" fill="none" stroke="#000" stroke-width="3"/><rect x="91.8" y="689.3" width="1184.7" height="6.6" fill="#000"/>
<line x1="93.30" y1="935.3" x2="93.30" y2="951" stroke="#000" stroke-width="3" stroke-linecap="round"/>
<line x1="200.77" y1="935.3" x2="200.77" y2="942.5" stroke="#000" stroke-width="3" stroke-linecap="round"/>
<line x1="308.24" y1="935.3" x2="308.24" y2="951" stroke="#000" stroke-width="3" stroke-linecap="round"/>
<line x1="415.71" y1="935.3" x2="415.71" y2="942.5" stroke="#000" stroke-width="3" stroke-linecap="round"/>
<line x1="523.18" y1="935.3" x2="523.18" y2="951" stroke="#000" stroke-width="3" stroke-linecap="round"/>
<line x1="630.65" y1="935.3" x2="630.65" y2="942.5" stroke="#000" stroke-width="3" stroke-linecap="round"/>
<line x1="738.12" y1="935.3" x2="738.12" y2="951" stroke="#000" stroke-width="3" stroke-linecap="round"/>
<line x1="845.59" y1="935.3" x2="845.59" y2="942.5" stroke="#000" stroke-width="3" stroke-linecap="round"/>
<line x1="953.06" y1="935.3" x2="953.06" y2="951" stroke="#000" stroke-width="3" stroke-linecap="round"/>
<line x1="1060.53" y1="935.3" x2="1060.53" y2="942.5" stroke="#000" stroke-width="3" stroke-linecap="round"/>
<line x1="1168.00" y1="935.3" x2="1168.00" y2="951" stroke="#000" stroke-width="3" stroke-linecap="round"/>
<line x1="1275.47" y1="935.3" x2="1275.47" y2="942.5" stroke="#000" stroke-width="3" stroke-linecap="round"/>
<text x="93.30" y="1001" font-size="48" text-anchor="middle">20</text>
<text x="308.24" y="1001" font-size="48" text-anchor="middle">30</text>
<text x="523.18" y="1001" font-size="48" text-anchor="middle">40</text>
<text x="738.12" y="1001" font-size="48" text-anchor="middle">50</text>
<text x="953.06" y="1001" font-size="48" text-anchor="middle">60</text>
<text x="1168.00" y="1001" font-size="48" text-anchor="middle">70</text>
<line x1="346.28" y1="811.9000000000001" x2="346.28" y2="935" stroke="#000" stroke-width="3" stroke-linecap="round"/>
<line x1="403.24" y1="846.1" x2="403.24" y2="935" stroke="#000" stroke-width="3" stroke-linecap="round"/>
<line x1="442.58" y1="717.4000000000001" x2="442.58" y2="935" stroke="#000" stroke-width="3" stroke-linecap="round"/>
<line x1="685.24" y1="890.1" x2="685.24" y2="935" stroke="#000" stroke-width="3" stroke-linecap="round"/>
<line x1="879.98" y1="870.9000000000001" x2="879.98" y2="935" stroke="#000" stroke-width="3" stroke-linecap="round"/>
<line x1="1014.53" y1="879.0" x2="1014.53" y2="935" stroke="#000" stroke-width="3" stroke-linecap="round"/>
<line x1="1090.19" y1="927.7" x2="1090.19" y2="935" stroke="#000" stroke-width="3" stroke-linecap="round"/>
<line x1="1124.15" y1="889.5" x2="1124.15" y2="935" stroke="#000" stroke-width="3" stroke-linecap="round"/>
<line x1="1148.66" y1="913.0" x2="1148.66" y2="935" stroke="#000" stroke-width="3" stroke-linecap="round"/>
<line x1="1223.02" y1="932.9000000000001" x2="1223.02" y2="935" stroke="#000" stroke-width="3" stroke-linecap="round"/>
<text transform="translate(359.4,760.6) rotate(-90)" font-size="40" text-anchor="middle">(100)</text>
<text transform="translate(412.9,794.2) rotate(-90)" font-size="40" text-anchor="middle">(002)</text>
<text transform="translate(484.4,743.0) rotate(-90)" font-size="40" text-anchor="middle">(101)</text>
<text transform="translate(699.2,832.7) rotate(-90)" font-size="40" text-anchor="middle">(102)</text>
<text transform="translate(892.4,814.5) rotate(-90)" font-size="40" text-anchor="middle">(110)</text>
<text transform="translate(1027.4,825.7) rotate(-90)" font-size="40" text-anchor="middle">(103)</text>
<text transform="translate(1094.3,868.5) rotate(-90)" font-size="40" text-anchor="middle">(200)</text>
<text transform="translate(1135.3,834.5) rotate(-90)" font-size="40" text-anchor="middle">(112)</text>
<text transform="translate(1173.9,857.3) rotate(-90)" font-size="40" text-anchor="middle">(201)</text>
<text transform="translate(1240.7,880.8) rotate(-90)" font-size="40" text-anchor="middle">(004)</text>
<text x="668.5" y="742.5" font-size="49.4">JCPDS card No. 01-071-6424</text>
<text x="859" y="98" font-size="64" fill="#bf1b6f">Zn<tspan font-size="35" dy="24.5">0.98</tspan><tspan dy="-24.5">Fe</tspan><tspan font-size="35" dy="24.5">0.02</tspan><tspan dy="-24.5">O</tspan></text>
<text x="860.7" y="214.5" font-size="64" fill="#1464bc">Zn<tspan font-size="35" dy="24.5">0.96</tspan><tspan dy="-24.5">Fe</tspan><tspan font-size="35" dy="24.5">0.04</tspan><tspan dy="-24.5">O</tspan></text>
<text x="859.5" y="312.5" font-size="64" fill="#22bfc2">Zn<tspan font-size="35" dy="24.5">0.94</tspan><tspan dy="-24.5">Fe</tspan><tspan font-size="35" dy="24.5">0.06</tspan><tspan dy="-24.5">O</tspan></text>
<text x="859.5" y="418" font-size="64" fill="#4aa03e">Zn<tspan font-size="35" dy="24.5">0.92</tspan><tspan dy="-24.5">Fe</tspan><tspan font-size="35" dy="24.5">0.08</tspan><tspan dy="-24.5">O</tspan></text>
<text x="860.7" y="519.25" font-size="64" fill="#d1a625">Zn<tspan font-size="35" dy="24.5">0.90</tspan><tspan dy="-24.5">Fe</tspan><tspan font-size="35" dy="24.5">0.10</tspan><tspan dy="-24.5">O</tspan></text>
<text x="860.7" y="614.25" font-size="64" fill="#e8161e">Zn<tspan font-size="35" dy="24.5">0.88</tspan><tspan dy="-24.5">Fe</tspan><tspan font-size="35" dy="24.5">0.12</tspan><tspan dy="-24.5">O</tspan></text>
<text transform="translate(691,1078.5) scale(1,1.03)" font-size="70" text-anchor="middle">2θ / deg.</text>
<text transform="translate(60,318.5) rotate(-90)" font-size="72.4" text-anchor="middle">Intensity / a.u.</text>
</svg></body></html>
